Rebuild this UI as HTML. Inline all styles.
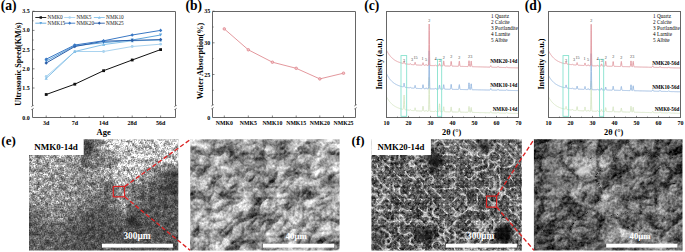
<!DOCTYPE html>
<html><head><meta charset="utf-8"><style>
html,body{margin:0;padding:0;background:#fff;width:685px;height:252px;overflow:hidden}
svg{display:block}
</style></head><body>
<svg width="685" height="252" viewBox="0 0 685 252">
<text x="0.7" y="10.0" style="font-family:'Liberation Serif',serif;font-weight:bold;font-size:13.6px">(a)</text>
<path d="M32.5,11.5H175.5M32.5,117.5H175.5M32.5,11.5V106.0M32.5,109.0V117.5M175.5,11.5V106.0M175.5,109.0V117.5" fill="none" stroke="#666" stroke-width="1"/>
<path d="M31.0,106.9L34.0,105.1M31.0,109.9L34.0,108.1" stroke="#666" stroke-width="0.6" fill="none"/>
<path d="M174.0,106.9L177.0,105.1M174.0,109.9L177.0,108.1" stroke="#666" stroke-width="0.6" fill="none"/>
<path d="M32.5,11.2h2" stroke="#333" stroke-width="0.6"/>
<text x="29.8" y="13.2" text-anchor="end" style="font-family:'Liberation Serif',serif;font-weight:bold;font-size:6px">3.5</text>
<path d="M32.5,30.4h2" stroke="#333" stroke-width="0.6"/>
<text x="29.8" y="32.4" text-anchor="end" style="font-family:'Liberation Serif',serif;font-weight:bold;font-size:6px">3.0</text>
<path d="M32.5,49.6h2" stroke="#333" stroke-width="0.6"/>
<text x="29.8" y="51.6" text-anchor="end" style="font-family:'Liberation Serif',serif;font-weight:bold;font-size:6px">2.5</text>
<path d="M32.5,68.8h2" stroke="#333" stroke-width="0.6"/>
<text x="29.8" y="70.8" text-anchor="end" style="font-family:'Liberation Serif',serif;font-weight:bold;font-size:6px">2.0</text>
<path d="M32.5,88.0h2" stroke="#333" stroke-width="0.6"/>
<text x="29.8" y="90.0" text-anchor="end" style="font-family:'Liberation Serif',serif;font-weight:bold;font-size:6px">1.5</text>
<path d="M32.5,20.8h1.2" stroke="#333" stroke-width="0.5"/>
<path d="M32.5,40.0h1.2" stroke="#333" stroke-width="0.5"/>
<path d="M32.5,59.2h1.2" stroke="#333" stroke-width="0.5"/>
<path d="M32.5,78.4h1.2" stroke="#333" stroke-width="0.5"/>
<text x="29.8" y="119.5" text-anchor="end" style="font-family:'Liberation Serif',serif;font-weight:bold;font-size:6px">0.0</text>
<path d="M46.2,117.5v-2" stroke="#333" stroke-width="0.6"/>
<path d="M60.5,117.5v-1.2" stroke="#333" stroke-width="0.5"/>
<text x="46.2" y="124.9" text-anchor="middle" style="font-family:'Liberation Serif',serif;font-weight:bold;font-size:6px">3d</text>
<path d="M74.8,117.5v-2" stroke="#333" stroke-width="0.6"/>
<path d="M89.2,117.5v-1.2" stroke="#333" stroke-width="0.5"/>
<text x="74.8" y="124.9" text-anchor="middle" style="font-family:'Liberation Serif',serif;font-weight:bold;font-size:6px">7d</text>
<path d="M103.6,117.5v-2" stroke="#333" stroke-width="0.6"/>
<path d="M117.9,117.5v-1.2" stroke="#333" stroke-width="0.5"/>
<text x="103.6" y="124.9" text-anchor="middle" style="font-family:'Liberation Serif',serif;font-weight:bold;font-size:6px">14d</text>
<path d="M132.2,117.5v-2" stroke="#333" stroke-width="0.6"/>
<path d="M146.4,117.5v-1.2" stroke="#333" stroke-width="0.5"/>
<text x="132.2" y="124.9" text-anchor="middle" style="font-family:'Liberation Serif',serif;font-weight:bold;font-size:6px">28d</text>
<path d="M160.6,117.5v-2" stroke="#333" stroke-width="0.6"/>
<text x="160.6" y="124.9" text-anchor="middle" style="font-family:'Liberation Serif',serif;font-weight:bold;font-size:6px">56d</text>
<text x="103.6" y="134.6" text-anchor="middle" style="font-family:'Liberation Serif',serif;font-weight:bold;font-size:8.5px">Age</text>
<text transform="translate(20.6,64) rotate(-90)" text-anchor="middle" style="font-family:'Liberation Serif',serif;font-weight:bold;font-size:8.1px">Ultrasonic Speed(KM/s)</text>
<polyline points="46.2,76.5 74.8,51.5 103.6,51.5 132.2,46.5 160.6,44.2" fill="none" stroke="#a9d3ef" stroke-width="1.0"/>
<circle cx="46.2" cy="76.5" r="1.4" fill="#a9d3ef"/>
<circle cx="74.8" cy="51.5" r="1.4" fill="#a9d3ef"/>
<circle cx="103.6" cy="51.5" r="1.4" fill="#a9d3ef"/>
<circle cx="132.2" cy="46.5" r="1.4" fill="#a9d3ef"/>
<circle cx="160.6" cy="44.2" r="1.4" fill="#a9d3ef"/>
<polyline points="46.2,78.4 74.8,51.5 103.6,44.6 132.2,40.8 160.6,40.0" fill="none" stroke="#86c1e8" stroke-width="1.0"/>
<path d="M46.2,76.8L47.8,79.8H44.6Z" fill="#86c1e8"/>
<path d="M74.8,49.9L76.4,52.9H73.2Z" fill="#86c1e8"/>
<path d="M103.6,43.0L105.2,46.0H102.0Z" fill="#86c1e8"/>
<path d="M132.2,39.2L133.8,42.2H130.6Z" fill="#86c1e8"/>
<path d="M160.6,38.4L162.2,41.4H159.0Z" fill="#86c1e8"/>
<polyline points="46.2,61.1 74.8,45.8 103.6,42.7 132.2,40.0 160.6,35.0" fill="none" stroke="#5fa5dc" stroke-width="1.0"/>
<path d="M46.2,62.7L47.8,59.7H44.6Z" fill="#5fa5dc"/>
<path d="M74.8,47.4L76.4,44.4H73.2Z" fill="#5fa5dc"/>
<path d="M103.6,44.3L105.2,41.3H102.0Z" fill="#5fa5dc"/>
<path d="M132.2,41.6L133.8,38.6H130.6Z" fill="#5fa5dc"/>
<path d="M160.6,36.6L162.2,33.6H159.0Z" fill="#5fa5dc"/>
<polyline points="46.2,63.0 74.8,46.5 103.6,41.2 132.2,40.4 160.6,39.6" fill="none" stroke="#2c5ea8" stroke-width="1.0"/>
<path d="M46.2,61.2L47.9,63.0L46.2,64.8L44.5,63.0Z" fill="#2c5ea8"/>
<path d="M74.8,44.7L76.5,46.5L74.8,48.3L73.1,46.5Z" fill="#2c5ea8"/>
<path d="M103.6,39.4L105.3,41.2L103.6,43.0L101.9,41.2Z" fill="#2c5ea8"/>
<path d="M132.2,38.6L133.9,40.4L132.2,42.2L130.5,40.4Z" fill="#2c5ea8"/>
<path d="M160.6,37.8L162.3,39.6L160.6,41.4L158.9,39.6Z" fill="#2c5ea8"/>
<polyline points="46.2,59.2 74.8,45.0 103.6,40.8 132.2,35.0 160.6,30.4" fill="none" stroke="#3a78c4" stroke-width="1.0"/>
<path d="M46.2,57.4L47.9,59.2L46.2,61.0L44.5,59.2Z" fill="#3a78c4"/>
<path d="M74.8,43.2L76.5,45.0L74.8,46.8L73.1,45.0Z" fill="#3a78c4"/>
<path d="M103.6,39.0L105.3,40.8L103.6,42.6L101.9,40.8Z" fill="#3a78c4"/>
<path d="M132.2,33.2L133.9,35.0L132.2,36.8L130.5,35.0Z" fill="#3a78c4"/>
<path d="M160.6,28.6L162.3,30.4L160.6,32.2L158.9,30.4Z" fill="#3a78c4"/>
<polyline points="46.2,94.5 74.8,84.2 103.6,70.7 132.2,60.0 160.6,49.6" fill="none" stroke="#111111" stroke-width="1.0"/>
<rect x="44.8" y="93.1" width="2.8" height="2.8" fill="#111111"/>
<rect x="73.4" y="82.8" width="2.8" height="2.8" fill="#111111"/>
<rect x="102.2" y="69.3" width="2.8" height="2.8" fill="#111111"/>
<rect x="130.8" y="58.6" width="2.8" height="2.8" fill="#111111"/>
<rect x="159.2" y="48.2" width="2.8" height="2.8" fill="#111111"/>
<path d="M35.3,17.5h11" stroke="#111111" stroke-width="0.9"/>
<rect x="39.6" y="16.3" width="2.4" height="2.4" fill="#111111"/>
<text x="47.6" y="19.3" style="font-family:'Liberation Serif',serif;font-size:5.3px;fill:#222">NMK0</text>
<path d="M64.2,17.5h11" stroke="#a9d3ef" stroke-width="0.9"/>
<circle cx="69.7" cy="17.5" r="1.2" fill="#a9d3ef"/>
<text x="76.5" y="19.3" style="font-family:'Liberation Serif',serif;font-size:5.3px;fill:#222">NMK5</text>
<path d="M93.8,17.5h11" stroke="#86c1e8" stroke-width="0.9"/>
<path d="M99.3,16.1L100.7,18.7H97.9Z" fill="#86c1e8"/>
<text x="106.1" y="19.3" style="font-family:'Liberation Serif',serif;font-size:5.3px;fill:#222">NMK10</text>
<path d="M35.3,23.2h11" stroke="#5fa5dc" stroke-width="0.9"/>
<path d="M40.8,24.6L42.2,22.0H39.4Z" fill="#5fa5dc"/>
<text x="47.6" y="25.0" style="font-family:'Liberation Serif',serif;font-size:5.3px;fill:#222">NMK15</text>
<path d="M64.2,23.2h11" stroke="#3a78c4" stroke-width="0.9"/>
<path d="M69.7,21.6L71.2,23.2L69.7,24.8L68.2,23.2Z" fill="#3a78c4"/>
<text x="76.5" y="25.0" style="font-family:'Liberation Serif',serif;font-size:5.3px;fill:#222">NMK20</text>
<path d="M93.8,23.2h11" stroke="#2c5ea8" stroke-width="0.9"/>
<path d="M99.3,21.6L100.8,23.2L99.3,24.8L97.8,23.2Z" fill="#2c5ea8"/>
<text x="106.1" y="25.0" style="font-family:'Liberation Serif',serif;font-size:5.3px;fill:#222">NMK25</text>
<text x="185.4" y="10.0" style="font-family:'Liberation Serif',serif;font-weight:bold;font-size:13.6px">(b)</text>
<path d="M212.5,11.5H355.5M212.5,117.5H355.5M212.5,11.5V105.3M212.5,108.3V117.5M355.5,11.5V105.3M355.5,108.3V117.5" fill="none" stroke="#666" stroke-width="1"/>
<path d="M211.0,106.2L214.0,104.39999999999999M211.0,109.2L214.0,107.39999999999999" stroke="#666" stroke-width="0.6" fill="none"/>
<path d="M354.0,106.2L357.0,104.39999999999999M354.0,109.2L357.0,107.39999999999999" stroke="#666" stroke-width="0.6" fill="none"/>
<path d="M212.5,11.2h2" stroke="#333" stroke-width="0.6"/>
<text x="210.2" y="13.2" text-anchor="end" style="font-family:'Liberation Serif',serif;font-weight:bold;font-size:6px">35</text>
<path d="M212.5,42.8h2" stroke="#333" stroke-width="0.6"/>
<text x="210.2" y="44.8" text-anchor="end" style="font-family:'Liberation Serif',serif;font-weight:bold;font-size:6px">30</text>
<path d="M212.5,74.5h2" stroke="#333" stroke-width="0.6"/>
<text x="210.2" y="76.5" text-anchor="end" style="font-family:'Liberation Serif',serif;font-weight:bold;font-size:6px">25</text>
<path d="M212.5,27.0h1.2" stroke="#333" stroke-width="0.5"/>
<path d="M212.5,58.7h1.2" stroke="#333" stroke-width="0.5"/>
<path d="M212.5,90.3h1.2" stroke="#333" stroke-width="0.5"/>
<text x="210.2" y="119.5" text-anchor="end" style="font-family:'Liberation Serif',serif;font-weight:bold;font-size:6px">0</text>
<path d="M224.3,117.5v-2" stroke="#333" stroke-width="0.6"/>
<text x="224.3" y="124.9" text-anchor="middle" style="font-family:'Liberation Serif',serif;font-weight:bold;font-size:5.8px">NMK0</text>
<path d="M248.3,117.5v-2" stroke="#333" stroke-width="0.6"/>
<text x="248.3" y="124.9" text-anchor="middle" style="font-family:'Liberation Serif',serif;font-weight:bold;font-size:5.8px">NMK5</text>
<path d="M272.4,117.5v-2" stroke="#333" stroke-width="0.6"/>
<text x="272.4" y="124.9" text-anchor="middle" style="font-family:'Liberation Serif',serif;font-weight:bold;font-size:5.8px">NMK10</text>
<path d="M296.2,117.5v-2" stroke="#333" stroke-width="0.6"/>
<text x="296.2" y="124.9" text-anchor="middle" style="font-family:'Liberation Serif',serif;font-weight:bold;font-size:5.8px">NMK15</text>
<path d="M319.8,117.5v-2" stroke="#333" stroke-width="0.6"/>
<text x="319.8" y="124.9" text-anchor="middle" style="font-family:'Liberation Serif',serif;font-weight:bold;font-size:5.8px">NMK20</text>
<path d="M343.5,117.5v-2" stroke="#333" stroke-width="0.6"/>
<text x="343.5" y="124.9" text-anchor="middle" style="font-family:'Liberation Serif',serif;font-weight:bold;font-size:5.8px">NMK25</text>
<polyline points="224.3,28.9 248.3,49.8 272.4,62.2 296.2,68.3 319.8,78.9 343.5,73.2" fill="none" stroke="#e08c92" stroke-width="0.9"/>
<circle cx="224.3" cy="28.9" r="1.3" fill="#f3c4c8" stroke="#d9747c" stroke-width="0.6"/>
<circle cx="248.3" cy="49.8" r="1.3" fill="#f3c4c8" stroke="#d9747c" stroke-width="0.6"/>
<circle cx="272.4" cy="62.2" r="1.3" fill="#f3c4c8" stroke="#d9747c" stroke-width="0.6"/>
<circle cx="296.2" cy="68.3" r="1.3" fill="#f3c4c8" stroke="#d9747c" stroke-width="0.6"/>
<circle cx="319.8" cy="78.9" r="1.3" fill="#f3c4c8" stroke="#d9747c" stroke-width="0.6"/>
<circle cx="343.5" cy="73.2" r="1.3" fill="#f3c4c8" stroke="#d9747c" stroke-width="0.6"/>
<text transform="translate(202.9,61) rotate(-90)" text-anchor="middle" style="font-family:'Liberation Serif',serif;font-weight:bold;font-size:8.2px">Water Absorption(%)</text>
<text x="364.3" y="10.0" style="font-family:'Liberation Serif',serif;font-weight:bold;font-size:13.6px">(c)</text>
<polyline points="386.50,96.80 386.65,97.07 386.79,97.34 386.94,97.61 387.09,97.86 387.23,98.12 387.38,98.36 387.53,98.61 387.67,98.85 387.82,99.08 387.97,99.31 388.11,99.54 388.26,99.76 388.41,99.97 388.55,100.18 388.70,100.39 388.85,100.60 388.99,100.80 389.14,100.99 389.29,101.19 389.43,101.37 389.58,101.56 389.73,101.74 389.87,101.92 390.02,102.09 390.17,102.26 390.31,102.43 390.46,102.60 390.61,102.76 390.75,102.92 390.90,103.07 391.05,103.22 391.19,103.37 391.34,103.52 391.49,103.66 391.63,103.80 391.78,103.94 391.93,104.07 392.07,104.21 392.22,104.34 392.37,104.46 392.51,104.59 392.66,104.71 392.81,104.83 392.95,104.95 393.10,105.07 393.25,105.18 393.39,105.29 393.54,105.40 393.69,105.51 393.83,105.61 393.98,105.71 394.13,105.81 394.27,105.91 394.42,106.01 394.57,106.10 394.71,106.20 394.86,106.29 395.01,106.38 395.15,106.47 395.30,106.55 395.45,106.64 395.59,106.72 395.74,106.80 395.89,106.88 396.03,106.96 396.18,107.03 396.33,107.11 396.47,107.18 396.62,107.26 396.77,107.33 396.91,107.40 397.06,107.46 397.21,107.53 397.35,107.60 397.50,107.66 397.65,107.72 397.79,107.78 397.94,107.85 398.09,107.90 398.23,107.96 398.38,108.02 398.53,108.08 398.67,108.13 398.82,108.18 398.97,108.24 399.11,108.29 399.26,108.34 399.41,108.39 399.55,108.44 399.70,108.49 399.85,108.53 399.99,108.58 400.14,108.62 400.29,108.67 400.43,108.71 400.58,108.75 400.73,108.80 400.87,108.84 401.02,108.88 401.17,108.92 401.31,108.95 401.46,108.99 401.61,109.03 401.75,109.07 401.90,109.10 402.05,109.14 402.19,109.17 402.34,109.20 402.49,109.24 402.63,109.27 402.78,109.30 402.93,109.32 403.07,109.30 403.22,109.13 403.37,108.52 403.51,107.00 403.66,104.14 403.81,100.21 403.95,96.56 404.10,95.06 404.25,96.61 404.39,100.31 404.54,104.30 404.69,107.21 404.83,108.78 404.98,109.44 405.13,109.67 405.27,109.74 405.42,109.77 405.57,109.80 405.71,109.82 405.86,109.84 406.01,109.86 406.15,109.88 406.30,109.90 406.45,109.92 406.59,109.94 406.74,109.96 406.89,109.98 407.03,109.99 407.18,110.01 407.33,110.03 407.47,110.05 407.62,110.06 407.77,110.08 407.91,110.09 408.06,110.11 408.21,110.13 408.35,110.14 408.50,110.16 408.65,110.17 408.79,110.19 408.94,110.21 409.09,110.22 409.23,110.24 409.38,110.24 409.53,110.23 409.67,110.16 409.82,110.01 409.97,109.81 410.11,109.62 410.26,109.55 410.41,109.65 410.55,109.87 410.70,110.10 410.85,110.28 410.99,110.38 411.14,110.42 411.29,110.45 411.43,110.47 411.58,110.48 411.73,110.49 411.87,110.51 412.02,110.52 412.17,110.53 412.31,110.54 412.46,110.56 412.61,110.57 412.75,110.58 412.90,110.59 413.05,110.60 413.19,110.61 413.34,110.62 413.49,110.64 413.63,110.65 413.78,110.66 413.93,110.67 414.07,110.67 414.22,110.63 414.37,110.51 414.51,110.20 414.66,109.62 414.81,108.81 414.95,108.05 415.10,107.75 415.25,108.07 415.39,108.84 415.54,109.67 415.69,110.28 415.83,110.61 415.98,110.75 416.13,110.80 416.27,110.82 416.42,110.83 416.57,110.84 416.71,110.85 416.86,110.85 417.01,110.86 417.15,110.87 417.30,110.88 417.45,110.89 417.59,110.89 417.74,110.90 417.89,110.91 418.03,110.92 418.18,110.92 418.33,110.93 418.47,110.94 418.62,110.95 418.77,110.95 418.91,110.96 419.06,110.97 419.21,110.98 419.35,110.98 419.50,110.99 419.65,111.00 419.79,111.00 419.94,111.01 420.09,111.02 420.23,111.02 420.38,111.03 420.53,111.04 420.67,111.04 420.82,111.05 420.97,111.05 421.11,111.06 421.26,111.07 421.41,111.07 421.55,111.08 421.70,111.08 421.85,111.09 421.99,111.07 422.14,111.01 422.29,110.80 422.43,110.27 422.58,109.28 422.73,107.92 422.87,106.66 423.02,106.14 423.17,106.67 423.31,107.94 423.46,109.31 423.61,110.31 423.75,110.85 423.90,111.08 424.05,111.15 424.19,111.18 424.34,111.18 424.49,111.19 424.63,111.20 424.78,111.20 424.93,111.20 425.07,111.21 425.22,111.20 425.37,111.16 425.51,111.06 425.66,110.86 425.81,110.59 425.95,110.35 426.10,110.25 426.25,110.36 426.39,110.61 426.54,110.89 426.69,111.10 426.83,111.21 426.98,111.26 427.13,111.27 427.27,111.28 427.42,111.29 427.57,111.29 427.71,111.30 427.86,111.30 428.01,111.31 428.15,111.30 428.30,111.25 428.45,110.88 428.59,109.21 428.74,104.20 428.89,94.36 429.03,82.76 429.18,77.34 429.33,82.77 429.47,94.37 429.62,104.23 429.77,109.25 429.91,110.92 430.06,111.30 430.21,111.37 430.35,111.38 430.50,111.38 430.65,111.38 430.79,111.39 430.94,111.39 431.09,111.40 431.23,111.40 431.38,111.41 431.53,111.41 431.67,111.41 431.82,111.42 431.97,111.42 432.11,111.43 432.26,111.43 432.41,111.43 432.55,111.44 432.70,111.44 432.85,111.45 432.99,111.45 433.14,111.45 433.29,111.46 433.43,111.46 433.58,111.47 433.73,111.47 433.87,111.47 434.02,111.48 434.17,111.48 434.31,111.48 434.46,111.48 434.61,111.44 434.75,111.36 434.90,111.21 435.05,110.99 435.19,110.79 435.34,110.71 435.49,110.80 435.63,111.01 435.78,111.23 435.93,111.39 436.07,111.48 436.22,111.52 436.37,111.54 436.51,111.54 436.66,111.55 436.81,111.55 436.95,111.56 437.10,111.56 437.25,111.56 437.39,111.57 437.54,111.57 437.69,111.57 437.83,111.58 437.98,111.58 438.13,111.59 438.27,111.59 438.42,111.58 438.57,111.52 438.71,111.32 438.86,110.76 439.01,109.56 439.15,107.62 439.30,105.39 439.45,103.84 439.59,103.84 439.74,105.40 439.89,107.64 440.03,109.58 440.18,110.79 440.33,111.36 440.47,111.57 440.62,111.63 440.77,111.65 440.91,111.66 441.06,111.66 441.21,111.66 441.35,111.67 441.50,111.67 441.65,111.67 441.79,111.68 441.94,111.68 442.09,111.69 442.23,111.69 442.38,111.69 442.53,111.69 442.67,111.68 442.82,111.61 442.97,111.40 443.11,110.87 443.26,109.88 443.41,108.51 443.55,107.25 443.70,106.73 443.85,107.25 443.99,108.53 444.14,109.90 444.29,110.89 444.43,111.43 444.58,111.66 444.73,111.73 444.87,111.75 445.02,111.76 445.17,111.76 445.31,111.76 445.46,111.77 445.61,111.77 445.75,111.78 445.90,111.78 446.05,111.78 446.19,111.79 446.34,111.79 446.49,111.79 446.63,111.80 446.78,111.80 446.93,111.80 447.07,111.81 447.22,111.81 447.37,111.81 447.51,111.82 447.66,111.82 447.81,111.83 447.95,111.83 448.10,111.83 448.25,111.84 448.39,111.84 448.54,111.84 448.69,111.85 448.83,111.85 448.98,111.85 449.13,111.86 449.27,111.86 449.42,111.86 449.57,111.87 449.71,111.87 449.86,111.87 450.01,111.87 450.15,111.86 450.30,111.79 450.45,111.58 450.59,111.05 450.74,110.06 450.89,108.69 451.03,107.43 451.18,106.91 451.33,107.44 451.47,108.71 451.62,110.08 451.77,111.08 451.91,111.61 452.06,111.84 452.21,111.91 452.35,111.93 452.50,111.94 452.65,111.94 452.79,111.94 452.94,111.95 453.09,111.95 453.23,111.96 453.38,111.96 453.53,111.96 453.67,111.97 453.82,111.97 453.97,111.97 454.11,111.98 454.26,111.98 454.41,111.98 454.55,111.99 454.70,111.99 454.85,111.99 454.99,112.00 455.14,112.00 455.29,112.00 455.43,112.01 455.58,112.01 455.73,112.01 455.87,112.02 456.02,112.02 456.17,112.03 456.31,112.03 456.46,112.03 456.61,112.04 456.75,112.04 456.90,112.04 457.05,112.05 457.19,112.05 457.34,112.05 457.49,112.06 457.63,112.06 457.78,112.06 457.93,112.07 458.07,112.07 458.22,112.07 458.37,112.04 458.51,111.94 458.66,111.66 458.81,111.06 458.95,110.09 459.10,108.98 459.25,108.21 459.39,108.21 459.54,108.99 459.69,110.11 459.83,111.09 459.98,111.69 460.13,111.98 460.27,112.09 460.42,112.12 460.57,112.13 460.71,112.13 460.86,112.14 461.01,112.14 461.15,112.14 461.30,112.15 461.45,112.15 461.59,112.15 461.74,112.16 461.89,112.16 462.03,112.16 462.18,112.17 462.33,112.17 462.47,112.18 462.62,112.18 462.77,112.18 462.91,112.19 463.06,112.19 463.21,112.19 463.35,112.20 463.50,112.20 463.65,112.20 463.79,112.21 463.94,112.21 464.09,112.21 464.23,112.22 464.38,112.22 464.53,112.22 464.67,112.23 464.82,112.23 464.97,112.23 465.11,112.24 465.26,112.24 465.41,112.24 465.55,112.25 465.70,112.25 465.85,112.26 465.99,112.26 466.14,112.26 466.29,112.27 466.43,112.27 466.58,112.27 466.73,112.28 466.87,112.28 467.02,112.28 467.17,112.29 467.31,112.29 467.46,112.29 467.61,112.30 467.75,112.30 467.90,112.29 468.05,112.25 468.19,112.10 468.34,111.68 468.49,110.78 468.63,109.32 468.78,107.65 468.93,106.49 469.07,106.50 469.22,107.66 469.37,109.34 469.51,110.80 469.66,111.71 469.81,112.14 469.95,112.30 470.10,112.33 470.25,112.31 470.39,112.19 470.54,111.84 470.69,111.09 470.83,109.88 470.98,108.48 471.13,107.52 471.27,107.52 471.42,108.49 471.57,109.89 471.71,111.11 471.86,111.87 472.01,112.23 472.15,112.36 472.30,112.40 472.45,112.41 472.59,112.41 472.74,112.42 472.89,112.42 473.03,112.43 473.18,112.43 473.33,112.43 473.47,112.44 473.62,112.44 473.77,112.44 473.91,112.45 474.06,112.45 474.21,112.45 474.35,112.46 474.50,112.46 474.65,112.46 474.79,112.47 474.94,112.47 475.09,112.47 475.23,112.48 475.38,112.48 475.53,112.48 475.67,112.49 475.82,112.49 475.97,112.49 476.11,112.50 476.26,112.50 476.41,112.50 476.55,112.51 476.70,112.51 476.85,112.52 476.99,112.52 477.14,112.52 477.29,112.53 477.43,112.53 477.58,112.53 477.73,112.54 477.87,112.54 478.02,112.54 478.17,112.55 478.31,112.55 478.46,112.55 478.61,112.56 478.75,112.56 478.90,112.56 479.05,112.57 479.19,112.57 479.34,112.57 479.49,112.58 479.63,112.58 479.78,112.58 479.93,112.59 480.07,112.59 480.22,112.60 480.37,112.60 480.51,112.60 480.66,112.61 480.81,112.61 480.95,112.61 481.10,112.62 481.25,112.62 481.39,112.62 481.54,112.63 481.69,112.63 481.83,112.63 481.98,112.64 482.13,112.64 482.27,112.64 482.42,112.65 482.57,112.65 482.71,112.65 482.86,112.66 483.01,112.66 483.15,112.66 483.30,112.67 483.45,112.67 483.59,112.67 483.74,112.68 483.89,112.68 484.03,112.69 484.18,112.69 484.33,112.69 484.47,112.70 484.62,112.70 484.77,112.70 484.91,112.71 485.06,112.71 485.21,112.71 485.35,112.72 485.50,112.72 485.65,112.72 485.79,112.73 485.94,112.73 486.09,112.73 486.23,112.74 486.38,112.74 486.53,112.74 486.67,112.75 486.82,112.75 486.97,112.75 487.11,112.76 487.26,112.76 487.41,112.77 487.55,112.77 487.70,112.77 487.85,112.78 487.99,112.78 488.14,112.78 488.29,112.79 488.43,112.79 488.58,112.79 488.73,112.80 488.87,112.80 489.02,112.80 489.17,112.81 489.31,112.81 489.46,112.81 489.61,112.82 489.75,112.81 489.90,112.80 490.05,112.74 490.19,112.59 490.34,112.32 490.49,111.94 490.63,111.59 490.78,111.44 490.93,111.60 491.07,111.95 491.22,112.34 491.37,112.62 491.51,112.78 491.66,112.84 491.81,112.86 491.95,112.87 492.10,112.88 492.25,112.88 492.39,112.88 492.54,112.89 492.69,112.89 492.83,112.89 492.98,112.90 493.13,112.90 493.27,112.90 493.42,112.91 493.57,112.91 493.71,112.91 493.86,112.92 494.01,112.92 494.15,112.92 494.30,112.93 494.45,112.93 494.59,112.93 494.74,112.94 494.89,112.94 495.03,112.95 495.18,112.95 495.33,112.95 495.47,112.96 495.62,112.96 495.77,112.96 495.91,112.97 496.06,112.97 496.21,112.97 496.35,112.98 496.50,112.98 496.65,112.98 496.79,112.99 496.94,112.99 497.09,112.98 497.23,112.96 497.38,112.90 497.53,112.75 497.67,112.51 497.82,112.23 497.97,112.04 498.11,112.05 498.26,112.24 498.41,112.53 498.55,112.77 498.70,112.93 498.85,113.00 498.99,113.03 499.14,113.04 499.29,113.05 499.43,113.05 499.58,113.05 499.73,113.06 499.87,113.06 500.02,113.06 500.17,113.07 500.31,113.07 500.46,113.07 500.61,113.08 500.75,113.08 500.90,113.08 501.05,113.09 501.19,113.09 501.34,113.09 501.49,113.10 501.63,113.10 501.78,113.10 501.93,113.11 502.07,113.11 502.22,113.12 502.37,113.12 502.51,113.12 502.66,113.13 502.81,113.13 502.95,113.13 503.10,113.14 503.25,113.14 503.39,113.14 503.54,113.15 503.69,113.15 503.83,113.15 503.98,113.16 504.13,113.16 504.27,113.16 504.42,113.17 504.57,113.17 504.71,113.17 504.86,113.18 505.01,113.18 505.15,113.18 505.30,113.19 505.45,113.19 505.59,113.19 505.74,113.20 505.89,113.19 506.03,113.18 506.18,113.12 506.33,113.01 506.47,112.82 506.62,112.60 506.77,112.44 506.91,112.45 507.06,112.61 507.21,112.83 507.35,113.03 507.50,113.16 507.65,113.22 507.79,113.24 507.94,113.25 508.09,113.25 508.23,113.26 508.38,113.26 508.53,113.26 508.67,113.27 508.82,113.27 508.97,113.27 509.11,113.28 509.26,113.28 509.41,113.29 509.55,113.29 509.70,113.29 509.85,113.30 509.99,113.30 510.14,113.30 510.29,113.31 510.43,113.31 510.58,113.31 510.73,113.32 510.87,113.32 511.02,113.32 511.17,113.33 511.31,113.33 511.46,113.33 511.61,113.34 511.75,113.34 511.90,113.34 512.05,113.35 512.19,113.35 512.34,113.35 512.49,113.36 512.63,113.36 512.78,113.36 512.93,113.37 513.07,113.37 513.22,113.38 513.37,113.38 513.51,113.38 513.66,113.39 513.81,113.39 513.95,113.39 514.10,113.40 514.25,113.40 514.39,113.40 514.54,113.41 514.69,113.41 514.83,113.41 514.98,113.42 515.13,113.42 515.27,113.42 515.42,113.43 515.57,113.43 515.71,113.43 515.86,113.44 516.01,113.44 516.15,113.44 516.30,113.45 516.45,113.45 516.59,113.45 516.74,113.46 516.89,113.46 517.03,113.47 517.18,113.47 517.33,113.47 517.47,113.48 517.62,113.48 517.77,113.48 517.91,113.49 518.06,113.49 518.21,113.49 518.35,113.50 518.50,113.50" fill="none" stroke="#d3e3bf" stroke-width="0.8" stroke-linejoin="round"/>
<polyline points="386.50,73.80 386.65,74.09 386.79,74.37 386.94,74.64 387.09,74.91 387.23,75.17 387.38,75.43 387.53,75.69 387.67,75.93 387.82,76.18 387.97,76.42 388.11,76.65 388.26,76.88 388.41,77.11 388.55,77.33 388.70,77.55 388.85,77.76 388.99,77.97 389.14,78.17 389.29,78.37 389.43,78.57 389.58,78.76 389.73,78.95 389.87,79.14 390.02,79.32 390.17,79.50 390.31,79.67 390.46,79.84 390.61,80.01 390.75,80.18 390.90,80.34 391.05,80.50 391.19,80.65 391.34,80.80 391.49,80.95 391.63,81.10 391.78,81.24 391.93,81.38 392.07,81.52 392.22,81.66 392.37,81.79 392.51,81.92 392.66,82.05 392.81,82.17 392.95,82.30 393.10,82.42 393.25,82.54 393.39,82.65 393.54,82.76 393.69,82.88 393.83,82.99 393.98,83.09 394.13,83.20 394.27,83.30 394.42,83.40 394.57,83.50 394.71,83.60 394.86,83.69 395.01,83.79 395.15,83.88 395.30,83.97 395.45,84.06 395.59,84.14 395.74,84.23 395.89,84.31 396.03,84.39 396.18,84.47 396.33,84.55 396.47,84.63 396.62,84.70 396.77,84.77 396.91,84.85 397.06,84.92 397.21,84.99 397.35,85.06 397.50,85.12 397.65,85.19 397.79,85.25 397.94,85.32 398.09,85.38 398.23,85.44 398.38,85.50 398.53,85.56 398.67,85.61 398.82,85.67 398.97,85.72 399.11,85.78 399.26,85.83 399.41,85.88 399.55,85.93 399.70,85.98 399.85,86.03 399.99,86.08 400.14,86.13 400.29,86.17 400.43,86.22 400.58,86.26 400.73,86.31 400.87,86.35 401.02,86.39 401.17,86.43 401.31,86.47 401.46,86.51 401.61,86.55 401.75,86.59 401.90,86.62 402.05,86.66 402.19,86.70 402.34,86.73 402.49,86.77 402.63,86.80 402.78,86.83 402.93,86.86 403.07,86.88 403.22,86.85 403.37,86.71 403.51,86.31 403.66,85.55 403.81,84.48 403.95,83.50 404.10,83.10 404.25,83.55 404.39,84.59 404.54,85.71 404.69,86.53 404.83,86.98 404.98,87.18 405.13,87.26 405.27,87.30 405.42,87.33 405.57,87.35 405.71,87.37 405.86,87.40 406.01,87.42 406.15,87.44 406.30,87.46 406.45,87.48 406.59,87.50 406.74,87.52 406.89,87.54 407.03,87.56 407.18,87.57 407.33,87.59 407.47,87.61 407.62,87.63 407.77,87.64 407.91,87.66 408.06,87.68 408.21,87.69 408.35,87.71 408.50,87.72 408.65,87.74 408.79,87.76 408.94,87.78 409.09,87.79 409.23,87.81 409.38,87.81 409.53,87.79 409.67,87.72 409.82,87.58 409.97,87.38 410.11,87.19 410.26,87.12 410.41,87.22 410.55,87.44 410.70,87.67 410.85,87.84 410.99,87.94 411.14,87.99 411.29,88.01 411.43,88.03 411.58,88.04 411.73,88.06 411.87,88.07 412.02,88.08 412.17,88.09 412.31,88.11 412.46,88.12 412.61,88.13 412.75,88.14 412.90,88.15 413.05,88.16 413.19,88.18 413.34,88.19 413.49,88.20 413.63,88.21 413.78,88.22 413.93,88.23 414.07,88.22 414.22,88.19 414.37,88.07 414.51,87.76 414.66,87.17 414.81,86.36 414.95,85.61 415.10,85.30 415.25,85.63 415.39,86.40 415.54,87.23 415.69,87.83 415.83,88.16 415.98,88.30 416.13,88.35 416.27,88.37 416.42,88.38 416.57,88.39 416.71,88.40 416.86,88.41 417.01,88.41 417.15,88.42 417.30,88.43 417.45,88.44 417.59,88.44 417.74,88.45 417.89,88.46 418.03,88.46 418.18,88.47 418.33,88.48 418.47,88.49 418.62,88.49 418.77,88.50 418.91,88.51 419.06,88.51 419.21,88.52 419.35,88.53 419.50,88.53 419.65,88.54 419.79,88.54 419.94,88.55 420.09,88.56 420.23,88.56 420.38,88.57 420.53,88.57 420.67,88.58 420.82,88.59 420.97,88.59 421.11,88.60 421.26,88.60 421.41,88.61 421.55,88.61 421.70,88.62 421.85,88.62 421.99,88.61 422.14,88.56 422.29,88.39 422.43,87.97 422.58,87.18 422.73,86.09 422.87,85.08 423.02,84.67 423.17,85.09 423.31,86.11 423.46,87.21 423.61,88.01 423.75,88.44 423.90,88.62 424.05,88.68 424.19,88.70 424.34,88.71 424.49,88.71 424.63,88.72 424.78,88.72 424.93,88.73 425.07,88.73 425.22,88.72 425.37,88.68 425.51,88.58 425.66,88.38 425.81,88.11 425.95,87.86 426.10,87.76 426.25,87.87 426.39,88.13 426.54,88.41 426.69,88.61 426.83,88.72 426.98,88.77 427.13,88.79 427.27,88.79 427.42,88.80 427.57,88.80 427.71,88.81 427.86,88.81 428.01,88.81 428.15,88.81 428.30,88.75 428.45,88.33 428.59,86.47 428.74,80.87 428.89,69.86 429.03,56.90 429.18,50.85 429.33,56.91 429.47,69.88 429.62,80.89 429.77,86.50 429.91,88.37 430.06,88.79 430.21,88.86 430.35,88.87 430.50,88.88 430.65,88.88 430.79,88.89 430.94,88.89 431.09,88.89 431.23,88.90 431.38,88.90 431.53,88.90 431.67,88.91 431.82,88.91 431.97,88.91 432.11,88.92 432.26,88.92 432.41,88.92 432.55,88.93 432.70,88.93 432.85,88.93 432.99,88.94 433.14,88.94 433.29,88.94 433.43,88.95 433.58,88.95 433.73,88.95 433.87,88.96 434.02,88.96 434.17,88.96 434.31,88.96 434.46,88.96 434.61,88.92 434.75,88.84 434.90,88.69 435.05,88.47 435.19,88.27 435.34,88.19 435.49,88.28 435.63,88.48 435.78,88.71 435.93,88.87 436.07,88.96 436.22,89.00 436.37,89.01 436.51,89.02 436.66,89.02 436.81,89.02 436.95,89.03 437.10,89.03 437.25,89.03 437.39,89.04 437.54,89.04 437.69,89.04 437.83,89.04 437.98,89.05 438.13,89.05 438.27,89.05 438.42,89.05 438.57,89.02 438.71,88.92 438.86,88.64 439.01,88.04 439.15,87.07 439.30,85.96 439.45,85.19 439.59,85.19 439.74,85.97 439.89,87.09 440.03,88.07 440.18,88.67 440.33,88.96 440.47,89.06 440.62,89.09 440.77,89.10 440.91,89.11 441.06,89.11 441.21,89.11 441.35,89.12 441.50,89.12 441.65,89.12 441.79,89.13 441.94,89.13 442.09,89.13 442.23,89.14 442.38,89.14 442.53,89.14 442.67,89.12 442.82,89.06 442.97,88.87 443.11,88.39 443.26,87.50 443.41,86.27 443.55,85.14 443.70,84.66 443.85,85.14 443.99,86.29 444.14,87.52 444.29,88.42 444.43,88.90 444.58,89.10 444.73,89.17 444.87,89.18 445.02,89.19 445.17,89.19 445.31,89.20 445.46,89.20 445.61,89.20 445.75,89.21 445.90,89.21 446.05,89.21 446.19,89.21 446.34,89.22 446.49,89.22 446.63,89.22 446.78,89.23 446.93,89.23 447.07,89.23 447.22,89.23 447.37,89.24 447.51,89.24 447.66,89.24 447.81,89.25 447.95,89.25 448.10,89.25 448.25,89.25 448.39,89.26 448.54,89.26 448.69,89.26 448.83,89.27 448.98,89.27 449.13,89.27 449.27,89.28 449.42,89.28 449.57,89.28 449.71,89.28 449.86,89.29 450.01,89.29 450.15,89.27 450.30,89.20 450.45,88.99 450.59,88.46 450.74,87.46 450.89,86.10 451.03,84.84 451.18,84.31 451.33,84.84 451.47,86.11 451.62,87.48 451.77,88.48 451.91,89.02 452.06,89.24 452.21,89.31 452.35,89.33 452.50,89.34 452.65,89.34 452.79,89.34 452.94,89.35 453.09,89.35 453.23,89.35 453.38,89.35 453.53,89.36 453.67,89.36 453.82,89.36 453.97,89.37 454.11,89.37 454.26,89.37 454.41,89.37 454.55,89.38 454.70,89.38 454.85,89.38 454.99,89.39 455.14,89.39 455.29,89.39 455.43,89.39 455.58,89.40 455.73,89.40 455.87,89.40 456.02,89.41 456.17,89.41 456.31,89.41 456.46,89.41 456.61,89.42 456.75,89.42 456.90,89.42 457.05,89.43 457.19,89.43 457.34,89.43 457.49,89.43 457.63,89.44 457.78,89.44 457.93,89.44 458.07,89.44 458.22,89.44 458.37,89.41 458.51,89.28 458.66,88.93 458.81,88.18 458.95,86.97 459.10,85.57 459.25,84.60 459.39,84.61 459.54,85.58 459.69,86.98 459.83,88.20 459.98,88.96 460.13,89.31 460.27,89.44 460.42,89.48 460.57,89.49 460.71,89.50 460.86,89.50 461.01,89.50 461.15,89.50 461.30,89.51 461.45,89.51 461.59,89.51 461.74,89.52 461.89,89.52 462.03,89.52 462.18,89.52 462.33,89.53 462.47,89.53 462.62,89.53 462.77,89.54 462.91,89.54 463.06,89.54 463.21,89.54 463.35,89.55 463.50,89.55 463.65,89.55 463.79,89.56 463.94,89.56 464.09,89.56 464.23,89.56 464.38,89.57 464.53,89.57 464.67,89.57 464.82,89.57 464.97,89.58 465.11,89.58 465.26,89.58 465.41,89.59 465.55,89.59 465.70,89.59 465.85,89.59 465.99,89.60 466.14,89.60 466.29,89.60 466.43,89.61 466.58,89.61 466.73,89.61 466.87,89.61 467.02,89.62 467.17,89.62 467.31,89.62 467.46,89.63 467.61,89.63 467.75,89.63 467.90,89.62 468.05,89.57 468.19,89.40 468.34,88.90 468.49,87.85 468.63,86.15 468.78,84.20 468.93,82.85 469.07,82.85 469.22,84.21 469.37,86.17 469.51,87.87 469.66,88.93 469.81,89.43 469.95,89.61 470.10,89.65 470.25,89.62 470.39,89.47 470.54,89.05 470.69,88.15 470.83,86.69 470.98,85.02 471.13,83.86 471.27,83.86 471.42,85.03 471.57,86.71 471.71,88.17 471.86,89.08 472.01,89.50 472.15,89.66 472.30,89.71 472.45,89.72 472.59,89.72 472.74,89.73 472.89,89.73 473.03,89.73 473.18,89.73 473.33,89.74 473.47,89.74 473.62,89.74 473.77,89.75 473.91,89.75 474.06,89.75 474.21,89.75 474.35,89.76 474.50,89.76 474.65,89.76 474.79,89.77 474.94,89.77 475.09,89.77 475.23,89.77 475.38,89.78 475.53,89.78 475.67,89.78 475.82,89.79 475.97,89.79 476.11,89.79 476.26,89.79 476.41,89.80 476.55,89.80 476.70,89.80 476.85,89.80 476.99,89.81 477.14,89.81 477.29,89.81 477.43,89.82 477.58,89.82 477.73,89.82 477.87,89.82 478.02,89.83 478.17,89.83 478.31,89.83 478.46,89.84 478.61,89.84 478.75,89.84 478.90,89.84 479.05,89.85 479.19,89.85 479.34,89.85 479.49,89.86 479.63,89.86 479.78,89.86 479.93,89.86 480.07,89.87 480.22,89.87 480.37,89.87 480.51,89.87 480.66,89.88 480.81,89.88 480.95,89.88 481.10,89.89 481.25,89.89 481.39,89.89 481.54,89.89 481.69,89.90 481.83,89.90 481.98,89.90 482.13,89.91 482.27,89.91 482.42,89.91 482.57,89.91 482.71,89.92 482.86,89.92 483.01,89.92 483.15,89.93 483.30,89.93 483.45,89.93 483.59,89.93 483.74,89.94 483.89,89.94 484.03,89.94 484.18,89.94 484.33,89.95 484.47,89.95 484.62,89.95 484.77,89.96 484.91,89.96 485.06,89.96 485.21,89.96 485.35,89.97 485.50,89.97 485.65,89.97 485.79,89.98 485.94,89.98 486.09,89.98 486.23,89.98 486.38,89.99 486.53,89.99 486.67,89.99 486.82,90.00 486.97,90.00 487.11,90.00 487.26,90.00 487.41,90.01 487.55,90.01 487.70,90.01 487.85,90.01 487.99,90.02 488.14,90.02 488.29,90.02 488.43,90.03 488.58,90.03 488.73,90.03 488.87,90.03 489.02,90.04 489.17,90.04 489.31,90.04 489.46,90.05 489.61,90.05 489.75,90.04 489.90,90.02 490.05,89.96 490.19,89.79 490.34,89.47 490.49,89.04 490.63,88.64 490.78,88.47 490.93,88.64 491.07,89.05 491.22,89.49 491.37,89.81 491.51,89.99 491.66,90.06 491.81,90.08 491.95,90.09 492.10,90.10 492.25,90.10 492.39,90.10 492.54,90.10 492.69,90.11 492.83,90.11 492.98,90.11 493.13,90.12 493.27,90.12 493.42,90.12 493.57,90.12 493.71,90.13 493.86,90.13 494.01,90.13 494.15,90.14 494.30,90.14 494.45,90.14 494.59,90.14 494.74,90.15 494.89,90.15 495.03,90.15 495.18,90.15 495.33,90.16 495.47,90.16 495.62,90.16 495.77,90.17 495.91,90.17 496.06,90.17 496.21,90.17 496.35,90.18 496.50,90.18 496.65,90.18 496.79,90.19 496.94,90.19 497.09,90.18 497.23,90.16 497.38,90.09 497.53,89.94 497.67,89.70 497.82,89.43 497.97,89.24 498.11,89.24 498.26,89.43 498.41,89.72 498.55,89.96 498.70,90.12 498.85,90.19 498.99,90.22 499.14,90.23 499.29,90.23 499.43,90.24 499.58,90.24 499.73,90.24 499.87,90.24 500.02,90.25 500.17,90.25 500.31,90.25 500.46,90.26 500.61,90.26 500.75,90.26 500.90,90.26 501.05,90.27 501.19,90.27 501.34,90.27 501.49,90.28 501.63,90.28 501.78,90.28 501.93,90.28 502.07,90.29 502.22,90.29 502.37,90.29 502.51,90.29 502.66,90.30 502.81,90.30 502.95,90.30 503.10,90.31 503.25,90.31 503.39,90.31 503.54,90.31 503.69,90.32 503.83,90.32 503.98,90.32 504.13,90.33 504.27,90.33 504.42,90.33 504.57,90.33 504.71,90.34 504.86,90.34 505.01,90.34 505.15,90.35 505.30,90.35 505.45,90.35 505.59,90.35 505.74,90.35 505.89,90.35 506.03,90.33 506.18,90.28 506.33,90.16 506.47,89.97 506.62,89.75 506.77,89.60 506.91,89.60 507.06,89.76 507.21,89.98 507.35,90.18 507.50,90.31 507.65,90.37 507.79,90.39 507.94,90.40 508.09,90.40 508.23,90.40 508.38,90.41 508.53,90.41 508.67,90.41 508.82,90.42 508.97,90.42 509.11,90.42 509.26,90.42 509.41,90.43 509.55,90.43 509.70,90.43 509.85,90.43 509.99,90.44 510.14,90.44 510.29,90.44 510.43,90.45 510.58,90.45 510.73,90.45 510.87,90.45 511.02,90.46 511.17,90.46 511.31,90.46 511.46,90.47 511.61,90.47 511.75,90.47 511.90,90.47 512.05,90.48 512.19,90.48 512.34,90.48 512.49,90.49 512.63,90.49 512.78,90.49 512.93,90.49 513.07,90.50 513.22,90.50 513.37,90.50 513.51,90.50 513.66,90.51 513.81,90.51 513.95,90.51 514.10,90.52 514.25,90.52 514.39,90.52 514.54,90.52 514.69,90.53 514.83,90.53 514.98,90.53 515.13,90.54 515.27,90.54 515.42,90.54 515.57,90.54 515.71,90.55 515.86,90.55 516.01,90.55 516.15,90.56 516.30,90.56 516.45,90.56 516.59,90.56 516.74,90.57 516.89,90.57 517.03,90.57 517.18,90.57 517.33,90.58 517.47,90.58 517.62,90.58 517.77,90.59 517.91,90.59 518.06,90.59 518.21,90.59 518.35,90.60 518.50,90.60" fill="none" stroke="#8eb2dd" stroke-width="0.8" stroke-linejoin="round"/>
<polyline points="386.50,50.30 386.65,50.59 386.79,50.87 386.94,51.14 387.09,51.41 387.23,51.67 387.38,51.93 387.53,52.19 387.67,52.43 387.82,52.68 387.97,52.92 388.11,53.15 388.26,53.38 388.41,53.61 388.55,53.83 388.70,54.05 388.85,54.26 388.99,54.47 389.14,54.67 389.29,54.87 389.43,55.07 389.58,55.26 389.73,55.45 389.87,55.64 390.02,55.82 390.17,56.00 390.31,56.17 390.46,56.34 390.61,56.51 390.75,56.68 390.90,56.84 391.05,57.00 391.19,57.15 391.34,57.30 391.49,57.45 391.63,57.60 391.78,57.74 391.93,57.88 392.07,58.02 392.22,58.16 392.37,58.29 392.51,58.42 392.66,58.55 392.81,58.67 392.95,58.80 393.10,58.92 393.25,59.04 393.39,59.15 393.54,59.26 393.69,59.38 393.83,59.49 393.98,59.59 394.13,59.70 394.27,59.80 394.42,59.90 394.57,60.00 394.71,60.10 394.86,60.19 395.01,60.29 395.15,60.38 395.30,60.47 395.45,60.56 395.59,60.64 395.74,60.73 395.89,60.81 396.03,60.89 396.18,60.97 396.33,61.05 396.47,61.13 396.62,61.20 396.77,61.27 396.91,61.35 397.06,61.42 397.21,61.49 397.35,61.56 397.50,61.62 397.65,61.69 397.79,61.75 397.94,61.82 398.09,61.88 398.23,61.94 398.38,62.00 398.53,62.06 398.67,62.11 398.82,62.17 398.97,62.22 399.11,62.28 399.26,62.33 399.41,62.38 399.55,62.43 399.70,62.48 399.85,62.53 399.99,62.58 400.14,62.63 400.29,62.67 400.43,62.72 400.58,62.76 400.73,62.81 400.87,62.85 401.02,62.89 401.17,62.93 401.31,62.97 401.46,63.01 401.61,63.05 401.75,63.09 401.90,63.12 402.05,63.16 402.19,63.20 402.34,63.23 402.49,63.27 402.63,63.30 402.78,63.33 402.93,63.36 403.07,63.39 403.22,63.39 403.37,63.32 403.51,63.12 403.66,62.71 403.81,62.14 403.95,61.61 404.10,61.40 404.25,61.66 404.39,62.25 404.54,62.87 404.69,63.34 404.83,63.60 404.98,63.72 405.13,63.77 405.27,63.80 405.42,63.83 405.57,63.85 405.71,63.87 405.86,63.90 406.01,63.92 406.15,63.94 406.30,63.96 406.45,63.98 406.59,64.00 406.74,64.02 406.89,64.04 407.03,64.06 407.18,64.07 407.33,64.09 407.47,64.11 407.62,64.13 407.77,64.14 407.91,64.16 408.06,64.18 408.21,64.19 408.35,64.21 408.50,64.22 408.65,64.24 408.79,64.26 408.94,64.28 409.09,64.30 409.23,64.31 409.38,64.32 409.53,64.30 409.67,64.23 409.82,64.09 409.97,63.89 410.11,63.70 410.26,63.63 410.41,63.73 410.55,63.95 410.70,64.19 410.85,64.36 410.99,64.46 411.14,64.51 411.29,64.54 411.43,64.55 411.58,64.57 411.73,64.58 411.87,64.59 412.02,64.61 412.17,64.62 412.31,64.63 412.46,64.65 412.61,64.66 412.75,64.67 412.90,64.68 413.05,64.70 413.19,64.71 413.34,64.72 413.49,64.73 413.63,64.74 413.78,64.76 413.93,64.77 414.07,64.77 414.22,64.74 414.37,64.64 414.51,64.37 414.66,63.87 414.81,63.17 414.95,62.52 415.10,62.25 415.25,62.54 415.39,63.21 415.54,63.93 415.69,64.45 415.83,64.74 415.98,64.86 416.13,64.91 416.27,64.93 416.42,64.94 416.57,64.95 416.71,64.96 416.86,64.97 417.01,64.98 417.15,64.98 417.30,64.99 417.45,65.00 417.59,65.01 417.74,65.02 417.89,65.03 418.03,65.03 418.18,65.04 418.33,65.05 418.47,65.06 418.62,65.07 418.77,65.07 418.91,65.08 419.06,65.09 419.21,65.10 419.35,65.10 419.50,65.11 419.65,65.12 419.79,65.13 419.94,65.13 420.09,65.14 420.23,65.15 420.38,65.15 420.53,65.16 420.67,65.17 420.82,65.18 420.97,65.18 421.11,65.19 421.26,65.20 421.41,65.20 421.55,65.21 421.70,65.21 421.85,65.22 421.99,65.22 422.14,65.19 422.29,65.08 422.43,64.81 422.58,64.30 422.73,63.59 422.87,62.94 423.02,62.67 423.17,62.95 423.31,63.62 423.46,64.33 423.61,64.86 423.75,65.14 423.90,65.26 424.05,65.30 424.19,65.32 424.34,65.32 424.49,65.33 424.63,65.34 424.78,65.34 424.93,65.35 425.07,65.35 425.22,65.34 425.37,65.30 425.51,65.20 425.66,65.01 425.81,64.74 425.95,64.49 426.10,64.39 426.25,64.50 426.39,64.76 426.54,65.04 426.69,65.24 426.83,65.35 426.98,65.40 427.13,65.42 427.27,65.43 427.42,65.44 427.57,65.44 427.71,65.45 427.86,65.45 428.01,65.46 428.15,65.45 428.30,65.39 428.45,64.93 428.59,62.90 428.74,56.78 428.89,44.76 429.03,30.61 429.18,24.00 429.33,30.62 429.47,44.78 429.62,56.81 429.77,62.94 429.91,64.98 430.06,65.44 430.21,65.52 430.35,65.53 430.50,65.54 430.65,65.54 430.79,65.55 430.94,65.55 431.09,65.56 431.23,65.56 431.38,65.57 431.53,65.57 431.67,65.58 431.82,65.58 431.97,65.58 432.11,65.59 432.26,65.59 432.41,65.60 432.55,65.60 432.70,65.61 432.85,65.61 432.99,65.62 433.14,65.62 433.29,65.63 433.43,65.63 433.58,65.63 433.73,65.64 433.87,65.64 434.02,65.65 434.17,65.65 434.31,65.65 434.46,65.65 434.61,65.61 434.75,65.53 434.90,65.38 435.05,65.16 435.19,64.97 435.34,64.89 435.49,64.97 435.63,65.18 435.78,65.40 435.93,65.57 436.07,65.66 436.22,65.70 436.37,65.71 436.51,65.72 436.66,65.72 436.81,65.73 436.95,65.73 437.10,65.74 437.25,65.74 437.39,65.75 437.54,65.75 437.69,65.75 437.83,65.76 437.98,65.76 438.13,65.77 438.27,65.77 438.42,65.77 438.57,65.76 438.71,65.71 438.86,65.56 439.01,65.23 439.15,64.70 439.30,64.09 439.45,63.66 439.59,63.67 439.74,64.10 439.89,64.72 440.03,65.26 440.18,65.59 440.33,65.75 440.47,65.81 440.62,65.83 440.77,65.84 440.91,65.84 441.06,65.85 441.21,65.85 441.35,65.86 441.50,65.86 441.65,65.86 441.79,65.87 441.94,65.87 442.09,65.88 442.23,65.88 442.38,65.88 442.53,65.88 442.67,65.87 442.82,65.81 442.97,65.59 443.11,65.06 443.26,64.07 443.41,62.71 443.55,61.44 443.70,60.92 443.85,61.45 443.99,62.72 444.14,64.09 444.29,65.09 444.43,65.63 444.58,65.85 444.73,65.93 444.87,65.95 445.02,65.96 445.17,65.96 445.31,65.96 445.46,65.97 445.61,65.97 445.75,65.98 445.90,65.98 446.05,65.98 446.19,65.99 446.34,65.99 446.49,66.00 446.63,66.00 446.78,66.00 446.93,66.01 447.07,66.01 447.22,66.02 447.37,66.02 447.51,66.02 447.66,66.03 447.81,66.03 447.95,66.04 448.10,66.04 448.25,66.04 448.39,66.05 448.54,66.05 448.69,66.06 448.83,66.06 448.98,66.06 449.13,66.07 449.27,66.07 449.42,66.08 449.57,66.08 449.71,66.08 449.86,66.09 450.01,66.09 450.15,66.07 450.30,66.01 450.45,65.80 450.59,65.30 450.74,64.35 450.89,63.04 451.03,61.82 451.18,61.32 451.33,61.83 451.47,63.05 451.62,64.37 451.77,65.33 451.91,65.84 452.06,66.06 452.21,66.13 452.35,66.15 452.50,66.16 452.65,66.16 452.79,66.17 452.94,66.17 453.09,66.17 453.23,66.18 453.38,66.18 453.53,66.19 453.67,66.19 453.82,66.19 453.97,66.20 454.11,66.20 454.26,66.20 454.41,66.21 454.55,66.21 454.70,66.22 454.85,66.22 454.99,66.22 455.14,66.23 455.29,66.23 455.43,66.24 455.58,66.24 455.73,66.24 455.87,66.25 456.02,66.25 456.17,66.26 456.31,66.26 456.46,66.26 456.61,66.27 456.75,66.27 456.90,66.27 457.05,66.28 457.19,66.28 457.34,66.29 457.49,66.29 457.63,66.29 457.78,66.30 457.93,66.30 458.07,66.30 458.22,66.30 458.37,66.27 458.51,66.14 458.66,65.77 458.81,64.99 458.95,63.73 459.10,62.28 459.25,61.28 459.39,61.28 459.54,62.29 459.69,63.75 459.83,65.02 459.98,65.81 460.13,66.18 460.27,66.32 460.42,66.36 460.57,66.37 460.71,66.38 460.86,66.38 461.01,66.38 461.15,66.39 461.30,66.39 461.45,66.40 461.59,66.40 461.74,66.40 461.89,66.41 462.03,66.41 462.18,66.41 462.33,66.42 462.47,66.42 462.62,66.43 462.77,66.43 462.91,66.43 463.06,66.44 463.21,66.44 463.35,66.45 463.50,66.45 463.65,66.45 463.79,66.46 463.94,66.46 464.09,66.47 464.23,66.47 464.38,66.47 464.53,66.48 464.67,66.48 464.82,66.48 464.97,66.49 465.11,66.49 465.26,66.50 465.41,66.50 465.55,66.50 465.70,66.51 465.85,66.51 465.99,66.52 466.14,66.52 466.29,66.52 466.43,66.53 466.58,66.53 466.73,66.53 466.87,66.54 467.02,66.54 467.17,66.55 467.31,66.55 467.46,66.55 467.61,66.56 467.75,66.56 467.90,66.55 468.05,66.51 468.19,66.37 468.34,65.94 468.49,65.04 468.63,63.59 468.78,61.92 468.93,60.76 469.07,60.76 469.22,61.93 469.37,63.61 469.51,65.07 469.66,65.98 469.81,66.41 469.95,66.56 470.10,66.60 470.25,66.57 470.39,66.44 470.54,66.05 470.69,65.20 470.83,63.85 470.98,62.29 471.13,61.20 471.27,61.21 471.42,62.30 471.57,63.87 471.71,65.23 471.86,66.08 472.01,66.48 472.15,66.63 472.30,66.67 472.45,66.68 472.59,66.69 472.74,66.69 472.89,66.70 473.03,66.70 473.18,66.71 473.33,66.71 473.47,66.71 473.62,66.72 473.77,66.72 473.91,66.72 474.06,66.73 474.21,66.73 474.35,66.74 474.50,66.74 474.65,66.74 474.79,66.75 474.94,66.75 475.09,66.76 475.23,66.76 475.38,66.76 475.53,66.77 475.67,66.77 475.82,66.77 475.97,66.78 476.11,66.78 476.26,66.79 476.41,66.79 476.55,66.79 476.70,66.80 476.85,66.80 476.99,66.81 477.14,66.81 477.29,66.81 477.43,66.82 477.58,66.82 477.73,66.82 477.87,66.83 478.02,66.83 478.17,66.84 478.31,66.84 478.46,66.84 478.61,66.85 478.75,66.85 478.90,66.86 479.05,66.86 479.19,66.86 479.34,66.87 479.49,66.87 479.63,66.88 479.78,66.88 479.93,66.88 480.07,66.89 480.22,66.89 480.37,66.89 480.51,66.90 480.66,66.90 480.81,66.91 480.95,66.91 481.10,66.91 481.25,66.92 481.39,66.92 481.54,66.93 481.69,66.93 481.83,66.93 481.98,66.94 482.13,66.94 482.27,66.94 482.42,66.95 482.57,66.95 482.71,66.96 482.86,66.96 483.01,66.96 483.15,66.97 483.30,66.97 483.45,66.98 483.59,66.98 483.74,66.98 483.89,66.99 484.03,66.99 484.18,67.00 484.33,67.00 484.47,67.00 484.62,67.01 484.77,67.01 484.91,67.01 485.06,67.02 485.21,67.02 485.35,67.03 485.50,67.03 485.65,67.03 485.79,67.04 485.94,67.04 486.09,67.05 486.23,67.05 486.38,67.05 486.53,67.06 486.67,67.06 486.82,67.06 486.97,67.07 487.11,67.07 487.26,67.08 487.41,67.08 487.55,67.08 487.70,67.09 487.85,67.09 487.99,67.10 488.14,67.10 488.29,67.10 488.43,67.11 488.58,67.11 488.73,67.12 488.87,67.12 489.02,67.12 489.17,67.13 489.31,67.13 489.46,67.13 489.61,67.14 489.75,67.14 489.90,67.12 490.05,67.05 490.19,66.88 490.34,66.57 490.49,66.14 490.63,65.73 490.78,65.57 490.93,65.74 491.07,66.15 491.22,66.59 491.37,66.91 491.51,67.09 491.66,67.16 491.81,67.19 491.95,67.20 492.10,67.20 492.25,67.21 492.39,67.21 492.54,67.22 492.69,67.22 492.83,67.22 492.98,67.23 493.13,67.23 493.27,67.23 493.42,67.24 493.57,67.24 493.71,67.25 493.86,67.25 494.01,67.25 494.15,67.26 494.30,67.26 494.45,67.27 494.59,67.27 494.74,67.27 494.89,67.28 495.03,67.28 495.18,67.29 495.33,67.29 495.47,67.29 495.62,67.30 495.77,67.30 495.91,67.30 496.06,67.31 496.21,67.31 496.35,67.32 496.50,67.32 496.65,67.32 496.79,67.33 496.94,67.33 497.09,67.33 497.23,67.30 497.38,67.24 497.53,67.09 497.67,66.85 497.82,66.58 497.97,66.39 498.11,66.39 498.26,66.59 498.41,66.87 498.55,67.12 498.70,67.27 498.85,67.35 498.99,67.38 499.14,67.39 499.29,67.39 499.43,67.40 499.58,67.40 499.73,67.41 499.87,67.41 500.02,67.41 500.17,67.42 500.31,67.42 500.46,67.42 500.61,67.43 500.75,67.43 500.90,67.44 501.05,67.44 501.19,67.44 501.34,67.45 501.49,67.45 501.63,67.46 501.78,67.46 501.93,67.46 502.07,67.47 502.22,67.47 502.37,67.47 502.51,67.48 502.66,67.48 502.81,67.49 502.95,67.49 503.10,67.49 503.25,67.50 503.39,67.50 503.54,67.51 503.69,67.51 503.83,67.51 503.98,67.52 504.13,67.52 504.27,67.52 504.42,67.53 504.57,67.53 504.71,67.54 504.86,67.54 505.01,67.54 505.15,67.55 505.30,67.55 505.45,67.56 505.59,67.56 505.74,67.56 505.89,67.56 506.03,67.54 506.18,67.49 506.33,67.37 506.47,67.18 506.62,66.96 506.77,66.81 506.91,66.82 507.06,66.98 507.21,67.20 507.35,67.40 507.50,67.53 507.65,67.59 507.79,67.61 507.94,67.62 508.09,67.63 508.23,67.63 508.38,67.63 508.53,67.64 508.67,67.64 508.82,67.64 508.97,67.65 509.11,67.65 509.26,67.66 509.41,67.66 509.55,67.66 509.70,67.67 509.85,67.67 509.99,67.68 510.14,67.68 510.29,67.68 510.43,67.69 510.58,67.69 510.73,67.70 510.87,67.70 511.02,67.70 511.17,67.71 511.31,67.71 511.46,67.71 511.61,67.72 511.75,67.72 511.90,67.73 512.05,67.73 512.19,67.73 512.34,67.74 512.49,67.74 512.63,67.75 512.78,67.75 512.93,67.75 513.07,67.76 513.22,67.76 513.37,67.76 513.51,67.77 513.66,67.77 513.81,67.78 513.95,67.78 514.10,67.78 514.25,67.79 514.39,67.79 514.54,67.80 514.69,67.80 514.83,67.80 514.98,67.81 515.13,67.81 515.27,67.81 515.42,67.82 515.57,67.82 515.71,67.83 515.86,67.83 516.01,67.83 516.15,67.84 516.30,67.84 516.45,67.85 516.59,67.85 516.74,67.85 516.89,67.86 517.03,67.86 517.18,67.87 517.33,67.87 517.47,67.87 517.62,67.88 517.77,67.88 517.91,67.88 518.06,67.89 518.21,67.89 518.35,67.90 518.50,67.90" fill="none" stroke="#de9198" stroke-width="0.8" stroke-linejoin="round"/>
<text x="517.3" y="63.1" text-anchor="end" style="font-family:'Liberation Serif',serif;font-weight:bold;font-size:5.1px">NMK20-14d</text>
<text x="517.3" y="87.4" text-anchor="end" style="font-family:'Liberation Serif',serif;font-weight:bold;font-size:5.1px">NMK10-14d</text>
<text x="517.3" y="111.0" text-anchor="end" style="font-family:'Liberation Serif',serif;font-weight:bold;font-size:5.1px">NMK0-14d</text>
<rect x="386.5" y="11.5" width="132.0" height="106.0" fill="none" stroke="#666" stroke-width="1"/>
<text x="386.5" y="125.1" text-anchor="middle" style="font-family:'Liberation Serif',serif;font-weight:bold;font-size:6px">10</text>
<path d="M408.5,117.5v-1.6" stroke="#333" stroke-width="0.6"/>
<text x="408.5" y="125.1" text-anchor="middle" style="font-family:'Liberation Serif',serif;font-weight:bold;font-size:6px">20</text>
<path d="M430.5,117.5v-1.6" stroke="#333" stroke-width="0.6"/>
<text x="430.5" y="125.1" text-anchor="middle" style="font-family:'Liberation Serif',serif;font-weight:bold;font-size:6px">30</text>
<path d="M452.5,117.5v-1.6" stroke="#333" stroke-width="0.6"/>
<text x="452.5" y="125.1" text-anchor="middle" style="font-family:'Liberation Serif',serif;font-weight:bold;font-size:6px">40</text>
<path d="M474.5,117.5v-1.6" stroke="#333" stroke-width="0.6"/>
<text x="474.5" y="125.1" text-anchor="middle" style="font-family:'Liberation Serif',serif;font-weight:bold;font-size:6px">50</text>
<path d="M496.5,117.5v-1.6" stroke="#333" stroke-width="0.6"/>
<text x="496.5" y="125.1" text-anchor="middle" style="font-family:'Liberation Serif',serif;font-weight:bold;font-size:6px">60</text>
<text x="518.5" y="125.1" text-anchor="middle" style="font-family:'Liberation Serif',serif;font-weight:bold;font-size:6px">70</text>
<path d="M397.5,117.5v-1" stroke="#333" stroke-width="0.5"/>
<path d="M419.5,117.5v-1" stroke="#333" stroke-width="0.5"/>
<path d="M441.5,117.5v-1" stroke="#333" stroke-width="0.5"/>
<path d="M463.5,117.5v-1" stroke="#333" stroke-width="0.5"/>
<path d="M485.5,117.5v-1" stroke="#333" stroke-width="0.5"/>
<path d="M507.5,117.5v-1" stroke="#333" stroke-width="0.5"/>
<text x="451.7" y="134.8" text-anchor="middle" style="font-family:'Liberation Serif',serif;font-weight:bold;font-size:8.3px">2θ (°)</text>
<text transform="translate(381.7,64) rotate(-90)" text-anchor="middle" style="font-family:'Liberation Serif',serif;font-weight:bold;font-size:8.2px">Intensity (a.u.)</text>
<text x="491.1" y="17.6" style="font-family:'Liberation Serif',serif;font-size:5.2px;fill:#000">1 Quartz</text>
<text x="491.1" y="23.7" style="font-family:'Liberation Serif',serif;font-size:5.2px;fill:#000">2 Calcite</text>
<text x="491.1" y="29.8" style="font-family:'Liberation Serif',serif;font-size:5.2px;fill:#000">3 Portlandite</text>
<text x="491.1" y="35.9" style="font-family:'Liberation Serif',serif;font-size:5.2px;fill:#000">4 Larnite</text>
<text x="491.1" y="42.0" style="font-family:'Liberation Serif',serif;font-size:5.2px;fill:#000">5 Albite</text>
<rect x="401.0" y="55.6" width="5.7" height="60.7" fill="none" stroke="#7fe0cb" stroke-width="0.85"/>
<rect x="437.5" y="59.3" width="4.2" height="57.0" fill="none" stroke="#7fe0cb" stroke-width="0.85"/>
<text x="404.1" y="62.0" text-anchor="middle" style="font-family:'Liberation Serif',serif;font-size:4.2px;fill:#444">3</text>
<text x="412.0" y="60.6" text-anchor="middle" style="font-family:'Liberation Serif',serif;font-size:4.2px;fill:#444">3</text>
<text x="415.5" y="59.0" text-anchor="middle" style="font-family:'Liberation Serif',serif;font-size:4.2px;fill:#444">15</text>
<text x="422.6" y="59.6" text-anchor="middle" style="font-family:'Liberation Serif',serif;font-size:4.2px;fill:#444">1</text>
<text x="426.1" y="61.2" text-anchor="middle" style="font-family:'Liberation Serif',serif;font-size:4.2px;fill:#444">5</text>
<text x="429.2" y="22.3" text-anchor="middle" style="font-family:'Liberation Serif',serif;font-size:4.2px;fill:#444">2</text>
<text x="435.6" y="60.3" text-anchor="middle" style="font-family:'Liberation Serif',serif;font-size:4.2px;fill:#444">4</text>
<text x="439.7" y="62.0" text-anchor="middle" style="font-family:'Liberation Serif',serif;font-size:4.2px;fill:#444">3</text>
<text x="443.7" y="58.6" text-anchor="middle" style="font-family:'Liberation Serif',serif;font-size:4.2px;fill:#444">2</text>
<text x="451.2" y="58.4" text-anchor="middle" style="font-family:'Liberation Serif',serif;font-size:4.2px;fill:#444">2</text>
<text x="459.3" y="58.6" text-anchor="middle" style="font-family:'Liberation Serif',serif;font-size:4.2px;fill:#444">2</text>
<text x="469.0" y="57.8" text-anchor="middle" style="font-family:'Liberation Serif',serif;font-size:4.2px;fill:#444">2</text>
<text x="471.4" y="58.4" text-anchor="middle" style="font-family:'Liberation Serif',serif;font-size:4.2px;fill:#444">3</text>
<text x="524.8" y="10.0" style="font-family:'Liberation Serif',serif;font-weight:bold;font-size:13.6px">(d)</text>
<polyline points="548.50,96.80 548.65,97.07 548.79,97.33 548.94,97.59 549.09,97.85 549.23,98.10 549.38,98.34 549.53,98.58 549.67,98.82 549.82,99.05 549.97,99.27 550.11,99.50 550.26,99.71 550.41,99.93 550.55,100.14 550.70,100.34 550.85,100.54 550.99,100.74 551.14,100.93 551.29,101.12 551.43,101.31 551.58,101.49 551.73,101.67 551.87,101.85 552.02,102.02 552.17,102.19 552.31,102.35 552.46,102.51 552.61,102.67 552.75,102.83 552.90,102.98 553.05,103.13 553.19,103.28 553.34,103.42 553.49,103.56 553.63,103.70 553.78,103.84 553.93,103.97 554.07,104.10 554.22,104.23 554.37,104.36 554.51,104.48 554.66,104.60 554.81,104.72 554.95,104.83 555.10,104.95 555.25,105.06 555.39,105.17 555.54,105.28 555.69,105.38 555.83,105.49 555.98,105.59 556.13,105.69 556.27,105.78 556.42,105.88 556.57,105.97 556.71,106.06 556.86,106.15 557.01,106.24 557.15,106.33 557.30,106.41 557.45,106.50 557.59,106.58 557.74,106.66 557.89,106.74 558.03,106.81 558.18,106.89 558.33,106.96 558.47,107.04 558.62,107.11 558.77,107.18 558.91,107.25 559.06,107.31 559.21,107.38 559.35,107.44 559.50,107.51 559.65,107.57 559.79,107.63 559.94,107.69 560.09,107.75 560.23,107.80 560.38,107.86 560.53,107.92 560.67,107.97 560.82,108.02 560.97,108.07 561.11,108.13 561.26,108.18 561.41,108.22 561.55,108.27 561.70,108.32 561.85,108.37 561.99,108.41 562.14,108.46 562.29,108.50 562.43,108.54 562.58,108.58 562.73,108.63 562.87,108.67 563.02,108.70 563.17,108.74 563.31,108.78 563.46,108.82 563.61,108.86 563.75,108.89 563.90,108.93 564.05,108.96 564.19,108.99 564.34,109.03 564.49,109.06 564.63,109.09 564.78,109.12 564.93,109.15 565.07,109.17 565.22,109.16 565.37,109.06 565.51,108.76 565.66,108.19 565.81,107.40 565.95,106.67 566.10,106.38 566.25,106.72 566.39,107.51 566.54,108.35 566.69,108.97 566.83,109.32 566.98,109.47 567.13,109.53 567.27,109.57 567.42,109.59 567.57,109.61 567.71,109.63 567.86,109.66 568.01,109.68 568.15,109.70 568.30,109.72 568.45,109.73 568.59,109.75 568.74,109.77 568.89,109.79 569.03,109.81 569.18,109.82 569.33,109.84 569.47,109.86 569.62,109.87 569.77,109.89 569.91,109.91 570.06,109.92 570.21,109.94 570.35,109.95 570.50,109.97 570.65,109.98 570.79,110.00 570.94,110.02 571.09,110.03 571.23,110.05 571.38,110.05 571.53,110.03 571.67,109.97 571.82,109.82 571.97,109.62 572.11,109.43 572.26,109.36 572.41,109.46 572.55,109.68 572.70,109.91 572.85,110.08 572.99,110.18 573.14,110.23 573.29,110.26 573.43,110.27 573.58,110.29 573.73,110.30 573.87,110.31 574.02,110.32 574.17,110.34 574.31,110.35 574.46,110.36 574.61,110.37 574.75,110.38 574.90,110.40 575.05,110.41 575.19,110.42 575.34,110.43 575.49,110.44 575.63,110.45 575.78,110.46 575.93,110.47 576.07,110.47 576.22,110.42 576.37,110.25 576.51,109.84 576.66,109.05 576.81,107.97 576.95,106.96 577.10,106.55 577.25,106.98 577.39,108.01 577.54,109.11 577.69,109.91 577.83,110.35 577.98,110.53 578.13,110.60 578.27,110.62 578.42,110.63 578.57,110.64 578.71,110.65 578.86,110.66 579.01,110.67 579.15,110.67 579.30,110.68 579.45,110.69 579.59,110.70 579.74,110.70 579.89,110.71 580.03,110.72 580.18,110.73 580.33,110.73 580.47,110.74 580.62,110.75 580.77,110.76 580.91,110.76 581.06,110.77 581.21,110.78 581.35,110.78 581.50,110.79 581.65,110.80 581.79,110.80 581.94,110.81 582.09,110.82 582.23,110.82 582.38,110.83 582.53,110.84 582.67,110.84 582.82,110.85 582.97,110.86 583.11,110.86 583.26,110.87 583.41,110.87 583.55,110.88 583.70,110.89 583.85,110.89 583.99,110.88 584.14,110.83 584.29,110.66 584.43,110.24 584.58,109.45 584.73,108.36 584.87,107.35 585.02,106.94 585.17,107.36 585.31,108.38 585.46,109.48 585.61,110.28 585.75,110.72 585.90,110.90 586.05,110.96 586.19,110.98 586.34,110.99 586.49,110.99 586.63,111.00 586.78,111.00 586.93,111.01 587.07,111.01 587.22,111.00 587.37,110.96 587.51,110.86 587.66,110.66 587.81,110.40 587.95,110.15 588.10,110.05 588.25,110.16 588.39,110.41 588.54,110.69 588.69,110.90 588.83,111.01 588.98,111.06 589.13,111.08 589.27,111.08 589.42,111.09 589.57,111.09 589.71,111.10 589.86,111.10 590.01,111.11 590.15,111.11 590.30,111.06 590.45,110.73 590.59,109.26 590.74,104.84 590.89,96.15 591.03,85.92 591.18,81.14 591.33,85.93 591.47,96.17 591.62,104.87 591.77,109.29 591.91,110.77 592.06,111.11 592.21,111.17 592.35,111.18 592.50,111.18 592.65,111.19 592.79,111.19 592.94,111.19 593.09,111.20 593.23,111.20 593.38,111.21 593.53,111.21 593.67,111.21 593.82,111.22 593.97,111.22 594.11,111.23 594.26,111.23 594.41,111.24 594.55,111.24 594.70,111.24 594.85,111.25 594.99,111.25 595.14,111.26 595.29,111.26 595.43,111.26 595.58,111.27 595.73,111.27 595.87,111.28 596.02,111.28 596.17,111.28 596.31,111.28 596.46,111.28 596.61,111.24 596.75,111.16 596.90,111.01 597.05,110.79 597.19,110.59 597.34,110.51 597.49,110.60 597.63,110.81 597.78,111.03 597.93,111.19 598.07,111.28 598.22,111.32 598.37,111.34 598.51,111.34 598.66,111.35 598.81,111.35 598.95,111.36 599.10,111.36 599.25,111.36 599.39,111.37 599.54,111.37 599.69,111.38 599.83,111.38 599.98,111.38 600.13,111.39 600.27,111.39 600.42,111.39 600.57,111.38 600.71,111.33 600.86,111.19 601.01,110.90 601.15,110.41 601.30,109.86 601.45,109.47 601.59,109.48 601.74,109.87 601.89,110.43 602.03,110.92 602.18,111.23 602.33,111.37 602.47,111.43 602.62,111.45 602.77,111.45 602.91,111.46 603.06,111.46 603.21,111.46 603.35,111.47 603.50,111.47 603.65,111.47 603.79,111.48 603.94,111.48 604.09,111.49 604.23,111.49 604.38,111.49 604.53,111.49 604.67,111.48 604.82,111.43 604.97,111.26 605.11,110.83 605.26,110.04 605.41,108.95 605.55,107.94 605.70,107.53 605.85,107.95 605.99,108.97 606.14,110.06 606.29,110.86 606.43,111.29 606.58,111.47 606.73,111.53 606.87,111.55 607.02,111.56 607.17,111.56 607.31,111.56 607.46,111.57 607.61,111.57 607.75,111.58 607.90,111.58 608.05,111.58 608.19,111.59 608.34,111.59 608.49,111.59 608.63,111.60 608.78,111.60 608.93,111.60 609.07,111.61 609.22,111.61 609.37,111.61 609.51,111.62 609.66,111.62 609.81,111.63 609.95,111.63 610.10,111.63 610.25,111.64 610.39,111.64 610.54,111.64 610.69,111.65 610.83,111.65 610.98,111.65 611.13,111.66 611.27,111.66 611.42,111.66 611.57,111.67 611.71,111.67 611.86,111.67 612.01,111.67 612.15,111.66 612.30,111.59 612.45,111.38 612.59,110.85 612.74,109.86 612.89,108.49 613.03,107.23 613.18,106.71 613.33,107.24 613.47,108.51 613.62,109.88 613.77,110.88 613.91,111.41 614.06,111.64 614.21,111.71 614.35,111.73 614.50,111.74 614.65,111.74 614.79,111.74 614.94,111.75 615.09,111.75 615.23,111.76 615.38,111.76 615.53,111.76 615.67,111.77 615.82,111.77 615.97,111.77 616.11,111.78 616.26,111.78 616.41,111.78 616.55,111.79 616.70,111.79 616.85,111.79 616.99,111.80 617.14,111.80 617.29,111.80 617.43,111.81 617.58,111.81 617.73,111.81 617.87,111.82 618.02,111.82 618.17,111.83 618.31,111.83 618.46,111.83 618.61,111.84 618.75,111.84 618.90,111.84 619.05,111.85 619.19,111.85 619.34,111.85 619.49,111.86 619.63,111.86 619.78,111.86 619.93,111.87 620.07,111.87 620.22,111.87 620.37,111.84 620.51,111.74 620.66,111.46 620.81,110.86 620.95,109.89 621.10,108.78 621.25,108.01 621.39,108.01 621.54,108.79 621.69,109.91 621.83,110.89 621.98,111.49 622.13,111.78 622.27,111.89 622.42,111.92 622.57,111.93 622.71,111.93 622.86,111.94 623.01,111.94 623.15,111.94 623.30,111.95 623.45,111.95 623.59,111.95 623.74,111.96 623.89,111.96 624.03,111.96 624.18,111.97 624.33,111.97 624.47,111.98 624.62,111.98 624.77,111.98 624.91,111.99 625.06,111.99 625.21,111.99 625.35,112.00 625.50,112.00 625.65,112.00 625.79,112.01 625.94,112.01 626.09,112.01 626.23,112.02 626.38,112.02 626.53,112.02 626.67,112.03 626.82,112.03 626.97,112.03 627.11,112.04 627.26,112.04 627.41,112.04 627.55,112.05 627.70,112.05 627.85,112.06 627.99,112.06 628.14,112.06 628.29,112.07 628.43,112.07 628.58,112.07 628.73,112.08 628.87,112.08 629.02,112.08 629.17,112.09 629.31,112.09 629.46,112.09 629.61,112.10 629.75,112.10 629.90,112.09 630.05,112.05 630.19,111.90 630.34,111.48 630.49,110.58 630.63,109.12 630.78,107.45 630.93,106.29 631.07,106.30 631.22,107.46 631.37,109.14 631.51,110.60 631.66,111.51 631.81,111.94 631.95,112.10 632.10,112.13 632.25,112.11 632.39,111.99 632.54,111.64 632.69,110.89 632.83,109.68 632.98,108.28 633.13,107.32 633.27,107.32 633.42,108.29 633.57,109.69 633.71,110.91 633.86,111.67 634.01,112.03 634.15,112.16 634.30,112.20 634.45,112.21 634.59,112.21 634.74,112.22 634.89,112.22 635.03,112.23 635.18,112.23 635.33,112.23 635.47,112.24 635.62,112.24 635.77,112.24 635.91,112.25 636.06,112.25 636.21,112.25 636.35,112.26 636.50,112.26 636.65,112.26 636.79,112.27 636.94,112.27 637.09,112.27 637.23,112.28 637.38,112.28 637.53,112.28 637.67,112.29 637.82,112.29 637.97,112.29 638.11,112.30 638.26,112.30 638.41,112.30 638.55,112.31 638.70,112.31 638.85,112.32 638.99,112.32 639.14,112.32 639.29,112.33 639.43,112.33 639.58,112.33 639.73,112.34 639.87,112.34 640.02,112.34 640.17,112.35 640.31,112.35 640.46,112.35 640.61,112.36 640.75,112.36 640.90,112.36 641.05,112.37 641.19,112.37 641.34,112.37 641.49,112.38 641.63,112.38 641.78,112.38 641.93,112.39 642.07,112.39 642.22,112.40 642.37,112.40 642.51,112.40 642.66,112.41 642.81,112.41 642.95,112.41 643.10,112.42 643.25,112.42 643.39,112.42 643.54,112.43 643.69,112.43 643.83,112.43 643.98,112.44 644.13,112.44 644.27,112.44 644.42,112.45 644.57,112.45 644.71,112.45 644.86,112.46 645.01,112.46 645.15,112.46 645.30,112.47 645.45,112.47 645.59,112.47 645.74,112.48 645.89,112.48 646.03,112.49 646.18,112.49 646.33,112.49 646.47,112.50 646.62,112.50 646.77,112.50 646.91,112.51 647.06,112.51 647.21,112.51 647.35,112.52 647.50,112.52 647.65,112.52 647.79,112.53 647.94,112.53 648.09,112.53 648.23,112.54 648.38,112.54 648.53,112.54 648.67,112.55 648.82,112.55 648.97,112.55 649.11,112.56 649.26,112.56 649.41,112.57 649.55,112.57 649.70,112.57 649.85,112.58 649.99,112.58 650.14,112.58 650.29,112.59 650.43,112.59 650.58,112.59 650.73,112.60 650.87,112.60 651.02,112.60 651.17,112.61 651.31,112.61 651.46,112.61 651.61,112.62 651.75,112.61 651.90,112.60 652.05,112.54 652.19,112.39 652.34,112.12 652.49,111.74 652.63,111.39 652.78,111.24 652.93,111.40 653.07,111.75 653.22,112.14 653.37,112.42 653.51,112.58 653.66,112.64 653.81,112.66 653.95,112.67 654.10,112.68 654.25,112.68 654.39,112.68 654.54,112.69 654.69,112.69 654.83,112.69 654.98,112.70 655.13,112.70 655.27,112.70 655.42,112.71 655.57,112.71 655.71,112.71 655.86,112.72 656.01,112.72 656.15,112.72 656.30,112.73 656.45,112.73 656.59,112.73 656.74,112.74 656.89,112.74 657.03,112.75 657.18,112.75 657.33,112.75 657.47,112.76 657.62,112.76 657.77,112.76 657.91,112.77 658.06,112.77 658.21,112.77 658.35,112.78 658.50,112.78 658.65,112.78 658.79,112.79 658.94,112.79 659.09,112.78 659.23,112.76 659.38,112.70 659.53,112.55 659.67,112.31 659.82,112.03 659.97,111.84 660.11,111.85 660.26,112.04 660.41,112.33 660.55,112.57 660.70,112.73 660.85,112.80 660.99,112.83 661.14,112.84 661.29,112.85 661.43,112.85 661.58,112.85 661.73,112.86 661.87,112.86 662.02,112.86 662.17,112.87 662.31,112.87 662.46,112.87 662.61,112.88 662.75,112.88 662.90,112.88 663.05,112.89 663.19,112.89 663.34,112.89 663.49,112.90 663.63,112.90 663.78,112.90 663.93,112.91 664.07,112.91 664.22,112.92 664.37,112.92 664.51,112.92 664.66,112.93 664.81,112.93 664.95,112.93 665.10,112.94 665.25,112.94 665.39,112.94 665.54,112.95 665.69,112.95 665.83,112.95 665.98,112.96 666.13,112.96 666.27,112.96 666.42,112.97 666.57,112.97 666.71,112.97 666.86,112.98 667.01,112.98 667.15,112.98 667.30,112.99 667.45,112.99 667.59,112.99 667.74,113.00 667.89,112.99 668.03,112.98 668.18,112.92 668.33,112.81 668.47,112.62 668.62,112.40 668.77,112.24 668.91,112.25 669.06,112.41 669.21,112.63 669.35,112.83 669.50,112.96 669.65,113.02 669.79,113.04 669.94,113.05 670.09,113.05 670.23,113.06 670.38,113.06 670.53,113.06 670.67,113.07 670.82,113.07 670.97,113.07 671.11,113.08 671.26,113.08 671.41,113.09 671.55,113.09 671.70,113.09 671.85,113.10 671.99,113.10 672.14,113.10 672.29,113.11 672.43,113.11 672.58,113.11 672.73,113.12 672.87,113.12 673.02,113.12 673.17,113.13 673.31,113.13 673.46,113.13 673.61,113.14 673.75,113.14 673.90,113.14 674.05,113.15 674.19,113.15 674.34,113.15 674.49,113.16 674.63,113.16 674.78,113.16 674.93,113.17 675.07,113.17 675.22,113.18 675.37,113.18 675.51,113.18 675.66,113.19 675.81,113.19 675.95,113.19 676.10,113.20 676.25,113.20 676.39,113.20 676.54,113.21 676.69,113.21 676.83,113.21 676.98,113.22 677.13,113.22 677.27,113.22 677.42,113.23 677.57,113.23 677.71,113.23 677.86,113.24 678.01,113.24 678.15,113.24 678.30,113.25 678.45,113.25 678.59,113.25 678.74,113.26 678.89,113.26 679.03,113.27 679.18,113.27 679.33,113.27 679.47,113.28 679.62,113.28 679.77,113.28 679.91,113.29 680.06,113.29 680.21,113.29 680.35,113.30 680.50,113.30" fill="none" stroke="#d3e3bf" stroke-width="0.8" stroke-linejoin="round"/>
<polyline points="548.50,75.60 548.65,75.86 548.79,76.12 548.94,76.38 549.09,76.63 549.23,76.87 549.38,77.11 549.53,77.34 549.67,77.57 549.82,77.80 549.97,78.02 550.11,78.24 550.26,78.45 550.41,78.66 550.55,78.86 550.70,79.07 550.85,79.26 550.99,79.46 551.14,79.64 551.29,79.83 551.43,80.01 551.58,80.19 551.73,80.37 551.87,80.54 552.02,80.70 552.17,80.87 552.31,81.03 552.46,81.19 552.61,81.35 552.75,81.50 552.90,81.65 553.05,81.79 553.19,81.94 553.34,82.08 553.49,82.22 553.63,82.35 553.78,82.49 553.93,82.62 554.07,82.74 554.22,82.87 554.37,82.99 554.51,83.11 554.66,83.23 554.81,83.35 554.95,83.46 555.10,83.57 555.25,83.68 555.39,83.79 555.54,83.89 555.69,84.00 555.83,84.10 555.98,84.20 556.13,84.29 556.27,84.39 556.42,84.48 556.57,84.57 556.71,84.66 556.86,84.75 557.01,84.84 557.15,84.92 557.30,85.01 557.45,85.09 557.59,85.17 557.74,85.25 557.89,85.32 558.03,85.40 558.18,85.47 558.33,85.54 558.47,85.62 558.62,85.68 558.77,85.75 558.91,85.82 559.06,85.89 559.21,85.95 559.35,86.01 559.50,86.07 559.65,86.14 559.79,86.20 559.94,86.25 560.09,86.31 560.23,86.37 560.38,86.42 560.53,86.48 560.67,86.53 560.82,86.58 560.97,86.63 561.11,86.68 561.26,86.73 561.41,86.78 561.55,86.83 561.70,86.87 561.85,86.92 561.99,86.96 562.14,87.00 562.29,87.05 562.43,87.09 562.58,87.13 562.73,87.17 562.87,87.21 563.02,87.25 563.17,87.29 563.31,87.32 563.46,87.36 563.61,87.40 563.75,87.43 563.90,87.46 564.05,87.50 564.19,87.53 564.34,87.56 564.49,87.60 564.63,87.63 564.78,87.66 564.93,87.68 565.07,87.70 565.22,87.69 565.37,87.59 565.51,87.29 565.66,86.72 565.81,85.93 565.95,85.20 566.10,84.91 566.25,85.25 566.39,86.03 566.54,86.88 566.69,87.50 566.83,87.84 566.98,88.00 567.13,88.06 567.27,88.09 567.42,88.12 567.57,88.14 567.71,88.16 567.86,88.18 568.01,88.20 568.15,88.22 568.30,88.24 568.45,88.26 568.59,88.27 568.74,88.29 568.89,88.31 569.03,88.33 569.18,88.34 569.33,88.36 569.47,88.38 569.62,88.39 569.77,88.41 569.91,88.42 570.06,88.44 570.21,88.45 570.35,88.47 570.50,88.48 570.65,88.50 570.79,88.52 570.94,88.53 571.09,88.55 571.23,88.56 571.38,88.57 571.53,88.55 571.67,88.48 571.82,88.33 571.97,88.13 572.11,87.94 572.26,87.87 572.41,87.97 572.55,88.19 572.70,88.42 572.85,88.60 572.99,88.69 573.14,88.74 573.29,88.77 573.43,88.78 573.58,88.80 573.73,88.81 573.87,88.82 574.02,88.83 574.17,88.85 574.31,88.86 574.46,88.87 574.61,88.88 574.75,88.89 574.90,88.91 575.05,88.92 575.19,88.93 575.34,88.94 575.49,88.95 575.63,88.96 575.78,88.97 575.93,88.98 576.07,88.98 576.22,88.95 576.37,88.82 576.51,88.51 576.66,87.93 576.81,87.12 576.95,86.36 577.10,86.06 577.25,86.38 577.39,87.15 577.54,87.98 577.69,88.59 577.83,88.92 577.98,89.06 578.13,89.11 578.27,89.13 578.42,89.14 578.57,89.15 578.71,89.15 578.86,89.16 579.01,89.17 579.15,89.18 579.30,89.19 579.45,89.19 579.59,89.20 579.74,89.21 579.89,89.22 580.03,89.22 580.18,89.23 580.33,89.24 580.47,89.25 580.62,89.25 580.77,89.26 580.91,89.27 581.06,89.27 581.21,89.28 581.35,89.29 581.50,89.29 581.65,89.30 581.79,89.31 581.94,89.31 582.09,89.32 582.23,89.33 582.38,89.33 582.53,89.34 582.67,89.35 582.82,89.35 582.97,89.36 583.11,89.37 583.26,89.37 583.41,89.38 583.55,89.38 583.70,89.39 583.85,89.39 583.99,89.39 584.14,89.35 584.29,89.23 584.43,88.91 584.58,88.32 584.73,87.51 584.87,86.75 585.02,86.44 585.17,86.76 585.31,87.53 585.46,88.35 585.61,88.95 585.75,89.28 585.90,89.42 586.05,89.46 586.19,89.48 586.34,89.49 586.49,89.49 586.63,89.50 586.78,89.50 586.93,89.51 587.07,89.51 587.22,89.50 587.37,89.46 587.51,89.36 587.66,89.17 587.81,88.90 587.95,88.65 588.10,88.55 588.25,88.66 588.39,88.92 588.54,89.19 588.69,89.40 588.83,89.51 588.98,89.56 589.13,89.58 589.27,89.58 589.42,89.59 589.57,89.59 589.71,89.60 589.86,89.60 590.01,89.61 590.15,89.61 590.30,89.55 590.45,89.15 590.59,87.39 590.74,82.08 590.89,71.66 591.03,59.38 591.18,53.64 591.33,59.39 591.47,71.68 591.62,82.11 591.77,87.42 591.91,89.20 592.06,89.60 592.21,89.67 592.35,89.68 592.50,89.68 592.65,89.69 592.79,89.69 592.94,89.69 593.09,89.70 593.23,89.70 593.38,89.71 593.53,89.71 593.67,89.72 593.82,89.72 593.97,89.72 594.11,89.73 594.26,89.73 594.41,89.74 594.55,89.74 594.70,89.74 594.85,89.75 594.99,89.75 595.14,89.76 595.29,89.76 595.43,89.76 595.58,89.77 595.73,89.77 595.87,89.78 596.02,89.78 596.17,89.78 596.31,89.78 596.46,89.78 596.61,89.75 596.75,89.66 596.90,89.51 597.05,89.29 597.19,89.09 597.34,89.01 597.49,89.10 597.63,89.31 597.78,89.53 597.93,89.69 598.07,89.78 598.22,89.82 598.37,89.84 598.51,89.84 598.66,89.85 598.81,89.85 598.95,89.86 599.10,89.86 599.25,89.86 599.39,89.87 599.54,89.87 599.69,89.88 599.83,89.88 599.98,89.88 600.13,89.89 600.27,89.89 600.42,89.89 600.57,89.88 600.71,89.83 600.86,89.69 601.01,89.40 601.15,88.91 601.30,88.36 601.45,87.97 601.59,87.98 601.74,88.37 601.89,88.93 602.03,89.42 602.18,89.73 602.33,89.87 602.47,89.93 602.62,89.95 602.77,89.95 602.91,89.96 603.06,89.96 603.21,89.96 603.35,89.97 603.50,89.97 603.65,89.97 603.79,89.98 603.94,89.98 604.09,89.99 604.23,89.99 604.38,89.99 604.53,89.99 604.67,89.99 604.82,89.95 604.97,89.82 605.11,89.50 605.26,88.91 605.41,88.09 605.55,87.34 605.70,87.03 605.85,87.34 605.99,88.11 606.14,88.93 606.29,89.53 606.43,89.86 606.58,89.99 606.73,90.04 606.87,90.05 607.02,90.06 607.17,90.06 607.31,90.06 607.46,90.07 607.61,90.07 607.75,90.08 607.90,90.08 608.05,90.08 608.19,90.09 608.34,90.09 608.49,90.09 608.63,90.10 608.78,90.10 608.93,90.10 609.07,90.11 609.22,90.11 609.37,90.11 609.51,90.12 609.66,90.12 609.81,90.13 609.95,90.13 610.10,90.13 610.25,90.14 610.39,90.14 610.54,90.14 610.69,90.15 610.83,90.15 610.98,90.15 611.13,90.16 611.27,90.16 611.42,90.16 611.57,90.17 611.71,90.17 611.86,90.17 612.01,90.18 612.15,90.16 612.30,90.11 612.45,89.94 612.59,89.52 612.74,88.72 612.89,87.63 613.03,86.62 613.18,86.21 613.33,86.63 613.47,87.65 613.62,88.75 613.77,89.54 613.91,89.98 614.06,90.15 614.21,90.21 614.35,90.23 614.50,90.24 614.65,90.24 614.79,90.25 614.94,90.25 615.09,90.25 615.23,90.26 615.38,90.26 615.53,90.26 615.67,90.27 615.82,90.27 615.97,90.27 616.11,90.28 616.26,90.28 616.41,90.28 616.55,90.29 616.70,90.29 616.85,90.29 616.99,90.30 617.14,90.30 617.29,90.30 617.43,90.31 617.58,90.31 617.73,90.31 617.87,90.32 618.02,90.32 618.17,90.33 618.31,90.33 618.46,90.33 618.61,90.34 618.75,90.34 618.90,90.34 619.05,90.35 619.19,90.35 619.34,90.35 619.49,90.36 619.63,90.36 619.78,90.36 619.93,90.37 620.07,90.37 620.22,90.37 620.37,90.34 620.51,90.24 620.66,89.96 620.81,89.36 620.95,88.39 621.10,87.28 621.25,86.51 621.39,86.51 621.54,87.29 621.69,88.41 621.83,89.39 621.98,89.99 622.13,90.28 622.27,90.39 622.42,90.42 622.57,90.43 622.71,90.43 622.86,90.44 623.01,90.44 623.15,90.44 623.30,90.45 623.45,90.45 623.59,90.45 623.74,90.46 623.89,90.46 624.03,90.46 624.18,90.47 624.33,90.47 624.47,90.48 624.62,90.48 624.77,90.48 624.91,90.49 625.06,90.49 625.21,90.49 625.35,90.50 625.50,90.50 625.65,90.50 625.79,90.51 625.94,90.51 626.09,90.51 626.23,90.52 626.38,90.52 626.53,90.52 626.67,90.53 626.82,90.53 626.97,90.53 627.11,90.54 627.26,90.54 627.41,90.54 627.55,90.55 627.70,90.55 627.85,90.56 627.99,90.56 628.14,90.56 628.29,90.57 628.43,90.57 628.58,90.57 628.73,90.58 628.87,90.58 629.02,90.58 629.17,90.59 629.31,90.59 629.46,90.59 629.61,90.60 629.75,90.60 629.90,90.59 630.05,90.55 630.19,90.40 630.34,89.98 630.49,89.08 630.63,87.62 630.78,85.95 630.93,84.79 631.07,84.80 631.22,85.96 631.37,87.64 631.51,89.10 631.66,90.01 631.81,90.44 631.95,90.60 632.10,90.63 632.25,90.61 632.39,90.49 632.54,90.14 632.69,89.39 632.83,88.18 632.98,86.78 633.13,85.82 633.27,85.82 633.42,86.79 633.57,88.19 633.71,89.41 633.86,90.17 634.01,90.53 634.15,90.66 634.30,90.70 634.45,90.71 634.59,90.71 634.74,90.72 634.89,90.72 635.03,90.73 635.18,90.73 635.33,90.73 635.47,90.74 635.62,90.74 635.77,90.74 635.91,90.75 636.06,90.75 636.21,90.75 636.35,90.76 636.50,90.76 636.65,90.76 636.79,90.77 636.94,90.77 637.09,90.77 637.23,90.78 637.38,90.78 637.53,90.78 637.67,90.79 637.82,90.79 637.97,90.79 638.11,90.80 638.26,90.80 638.41,90.80 638.55,90.81 638.70,90.81 638.85,90.82 638.99,90.82 639.14,90.82 639.29,90.83 639.43,90.83 639.58,90.83 639.73,90.84 639.87,90.84 640.02,90.84 640.17,90.85 640.31,90.85 640.46,90.85 640.61,90.86 640.75,90.86 640.90,90.86 641.05,90.87 641.19,90.87 641.34,90.87 641.49,90.88 641.63,90.88 641.78,90.88 641.93,90.89 642.07,90.89 642.22,90.90 642.37,90.90 642.51,90.90 642.66,90.91 642.81,90.91 642.95,90.91 643.10,90.92 643.25,90.92 643.39,90.92 643.54,90.93 643.69,90.93 643.83,90.93 643.98,90.94 644.13,90.94 644.27,90.94 644.42,90.95 644.57,90.95 644.71,90.95 644.86,90.96 645.01,90.96 645.15,90.96 645.30,90.97 645.45,90.97 645.59,90.97 645.74,90.98 645.89,90.98 646.03,90.99 646.18,90.99 646.33,90.99 646.47,91.00 646.62,91.00 646.77,91.00 646.91,91.01 647.06,91.01 647.21,91.01 647.35,91.02 647.50,91.02 647.65,91.02 647.79,91.03 647.94,91.03 648.09,91.03 648.23,91.04 648.38,91.04 648.53,91.04 648.67,91.05 648.82,91.05 648.97,91.05 649.11,91.06 649.26,91.06 649.41,91.07 649.55,91.07 649.70,91.07 649.85,91.08 649.99,91.08 650.14,91.08 650.29,91.09 650.43,91.09 650.58,91.09 650.73,91.10 650.87,91.10 651.02,91.10 651.17,91.11 651.31,91.11 651.46,91.11 651.61,91.12 651.75,91.11 651.90,91.10 652.05,91.04 652.19,90.89 652.34,90.62 652.49,90.24 652.63,89.89 652.78,89.74 652.93,89.90 653.07,90.25 653.22,90.64 653.37,90.92 653.51,91.08 653.66,91.14 653.81,91.16 653.95,91.17 654.10,91.18 654.25,91.18 654.39,91.18 654.54,91.19 654.69,91.19 654.83,91.19 654.98,91.20 655.13,91.20 655.27,91.20 655.42,91.21 655.57,91.21 655.71,91.21 655.86,91.22 656.01,91.22 656.15,91.22 656.30,91.23 656.45,91.23 656.59,91.23 656.74,91.24 656.89,91.24 657.03,91.25 657.18,91.25 657.33,91.25 657.47,91.26 657.62,91.26 657.77,91.26 657.91,91.27 658.06,91.27 658.21,91.27 658.35,91.28 658.50,91.28 658.65,91.28 658.79,91.29 658.94,91.29 659.09,91.28 659.23,91.26 659.38,91.20 659.53,91.05 659.67,90.81 659.82,90.53 659.97,90.34 660.11,90.35 660.26,90.54 660.41,90.83 660.55,91.07 660.70,91.23 660.85,91.30 660.99,91.33 661.14,91.34 661.29,91.35 661.43,91.35 661.58,91.35 661.73,91.36 661.87,91.36 662.02,91.36 662.17,91.37 662.31,91.37 662.46,91.37 662.61,91.38 662.75,91.38 662.90,91.38 663.05,91.39 663.19,91.39 663.34,91.39 663.49,91.40 663.63,91.40 663.78,91.40 663.93,91.41 664.07,91.41 664.22,91.42 664.37,91.42 664.51,91.42 664.66,91.43 664.81,91.43 664.95,91.43 665.10,91.44 665.25,91.44 665.39,91.44 665.54,91.45 665.69,91.45 665.83,91.45 665.98,91.46 666.13,91.46 666.27,91.46 666.42,91.47 666.57,91.47 666.71,91.47 666.86,91.48 667.01,91.48 667.15,91.48 667.30,91.49 667.45,91.49 667.59,91.49 667.74,91.50 667.89,91.49 668.03,91.48 668.18,91.42 668.33,91.31 668.47,91.12 668.62,90.90 668.77,90.74 668.91,90.75 669.06,90.91 669.21,91.13 669.35,91.33 669.50,91.46 669.65,91.52 669.79,91.54 669.94,91.55 670.09,91.55 670.23,91.56 670.38,91.56 670.53,91.56 670.67,91.57 670.82,91.57 670.97,91.57 671.11,91.58 671.26,91.58 671.41,91.59 671.55,91.59 671.70,91.59 671.85,91.60 671.99,91.60 672.14,91.60 672.29,91.61 672.43,91.61 672.58,91.61 672.73,91.62 672.87,91.62 673.02,91.62 673.17,91.63 673.31,91.63 673.46,91.63 673.61,91.64 673.75,91.64 673.90,91.64 674.05,91.65 674.19,91.65 674.34,91.65 674.49,91.66 674.63,91.66 674.78,91.66 674.93,91.67 675.07,91.67 675.22,91.68 675.37,91.68 675.51,91.68 675.66,91.69 675.81,91.69 675.95,91.69 676.10,91.70 676.25,91.70 676.39,91.70 676.54,91.71 676.69,91.71 676.83,91.71 676.98,91.72 677.13,91.72 677.27,91.72 677.42,91.73 677.57,91.73 677.71,91.73 677.86,91.74 678.01,91.74 678.15,91.74 678.30,91.75 678.45,91.75 678.59,91.75 678.74,91.76 678.89,91.76 679.03,91.77 679.18,91.77 679.33,91.77 679.47,91.78 679.62,91.78 679.77,91.78 679.91,91.79 680.06,91.79 680.21,91.79 680.35,91.80 680.50,91.80" fill="none" stroke="#8eb2dd" stroke-width="0.8" stroke-linejoin="round"/>
<polyline points="548.50,50.80 548.65,51.08 548.79,51.36 548.94,51.63 549.09,51.89 549.23,52.15 549.38,52.41 549.53,52.66 549.67,52.91 549.82,53.15 549.97,53.38 550.11,53.61 550.26,53.84 550.41,54.06 550.55,54.28 550.70,54.49 550.85,54.70 550.99,54.91 551.14,55.11 551.29,55.31 551.43,55.50 551.58,55.69 551.73,55.88 551.87,56.06 552.02,56.24 552.17,56.42 552.31,56.59 552.46,56.76 552.61,56.93 552.75,57.09 552.90,57.25 553.05,57.40 553.19,57.56 553.34,57.71 553.49,57.86 553.63,58.00 553.78,58.14 553.93,58.28 554.07,58.42 554.22,58.55 554.37,58.68 554.51,58.81 554.66,58.94 554.81,59.06 554.95,59.18 555.10,59.30 555.25,59.42 555.39,59.53 555.54,59.64 555.69,59.75 555.83,59.86 555.98,59.97 556.13,60.07 556.27,60.17 556.42,60.27 556.57,60.37 556.71,60.46 556.86,60.56 557.01,60.65 557.15,60.74 557.30,60.83 557.45,60.92 557.59,61.00 557.74,61.08 557.89,61.17 558.03,61.25 558.18,61.32 558.33,61.40 558.47,61.48 558.62,61.55 558.77,61.62 558.91,61.70 559.06,61.77 559.21,61.83 559.35,61.90 559.50,61.97 559.65,62.03 559.79,62.10 559.94,62.16 560.09,62.22 560.23,62.28 560.38,62.34 560.53,62.40 560.67,62.45 560.82,62.51 560.97,62.56 561.11,62.61 561.26,62.67 561.41,62.72 561.55,62.77 561.70,62.82 561.85,62.87 561.99,62.91 562.14,62.96 562.29,63.00 562.43,63.05 562.58,63.09 562.73,63.14 562.87,63.18 563.02,63.22 563.17,63.26 563.31,63.30 563.46,63.34 563.61,63.38 563.75,63.41 563.90,63.45 564.05,63.49 564.19,63.52 564.34,63.56 564.49,63.59 564.63,63.62 564.78,63.65 564.93,63.69 565.07,63.71 565.22,63.71 565.37,63.64 565.51,63.44 565.66,63.03 565.81,62.46 565.95,61.93 566.10,61.72 566.25,61.98 566.39,62.56 566.54,63.19 566.69,63.65 566.83,63.91 566.98,64.03 567.13,64.09 567.27,64.12 567.42,64.14 567.57,64.17 567.71,64.19 567.86,64.21 568.01,64.23 568.15,64.25 568.30,64.27 568.45,64.29 568.59,64.31 568.74,64.33 568.89,64.35 569.03,64.37 569.18,64.39 569.33,64.40 569.47,64.42 569.62,64.44 569.77,64.46 569.91,64.47 570.06,64.49 570.21,64.50 570.35,64.52 570.50,64.53 570.65,64.55 570.79,64.57 570.94,64.59 571.09,64.61 571.23,64.62 571.38,64.63 571.53,64.61 571.67,64.54 571.82,64.40 571.97,64.19 572.11,64.01 572.26,63.94 572.41,64.04 572.55,64.26 572.70,64.49 572.85,64.66 572.99,64.76 573.14,64.81 573.29,64.84 573.43,64.85 573.58,64.87 573.73,64.88 573.87,64.90 574.02,64.91 574.17,64.92 574.31,64.93 574.46,64.95 574.61,64.96 574.75,64.97 574.90,64.98 575.05,64.99 575.19,65.01 575.34,65.02 575.49,65.03 575.63,65.04 575.78,65.05 575.93,65.06 576.07,65.06 576.22,65.04 576.37,64.93 576.51,64.67 576.66,64.16 576.81,63.46 576.95,62.81 577.10,62.55 577.25,62.83 577.39,63.50 577.54,64.22 577.69,64.74 577.83,65.03 577.98,65.15 578.13,65.20 578.27,65.22 578.42,65.23 578.57,65.24 578.71,65.25 578.86,65.25 579.01,65.26 579.15,65.27 579.30,65.28 579.45,65.29 579.59,65.30 579.74,65.30 579.89,65.31 580.03,65.32 580.18,65.33 580.33,65.34 580.47,65.34 580.62,65.35 580.77,65.36 580.91,65.37 581.06,65.37 581.21,65.38 581.35,65.39 581.50,65.39 581.65,65.40 581.79,65.41 581.94,65.41 582.09,65.42 582.23,65.43 582.38,65.44 582.53,65.44 582.67,65.45 582.82,65.45 582.97,65.46 583.11,65.47 583.26,65.47 583.41,65.48 583.55,65.49 583.70,65.49 583.85,65.50 583.99,65.49 584.14,65.46 584.29,65.36 584.43,65.08 584.58,64.57 584.73,63.87 584.87,63.21 585.02,62.95 585.17,63.23 585.31,63.89 585.46,64.61 585.61,65.13 585.75,65.41 585.90,65.53 586.05,65.57 586.19,65.59 586.34,65.60 586.49,65.60 586.63,65.61 586.78,65.61 586.93,65.62 587.07,65.62 587.22,65.61 587.37,65.57 587.51,65.47 587.66,65.28 587.81,65.01 587.95,64.76 588.10,64.66 588.25,64.77 588.39,65.03 588.54,65.31 588.69,65.51 588.83,65.62 588.98,65.67 589.13,65.69 589.27,65.70 589.42,65.70 589.57,65.71 589.71,65.71 589.86,65.72 590.01,65.72 590.15,65.72 590.30,65.65 590.45,65.20 590.59,63.16 590.74,57.05 590.89,45.03 591.03,30.87 591.18,24.26 591.33,30.88 591.47,45.05 591.62,57.07 591.77,63.20 591.91,65.24 592.06,65.71 592.21,65.78 592.35,65.79 592.50,65.80 592.65,65.80 592.79,65.81 592.94,65.81 593.09,65.82 593.23,65.82 593.38,65.83 593.53,65.83 593.67,65.83 593.82,65.84 593.97,65.84 594.11,65.85 594.26,65.85 594.41,65.86 594.55,65.86 594.70,65.86 594.85,65.87 594.99,65.87 595.14,65.88 595.29,65.88 595.43,65.88 595.58,65.89 595.73,65.89 595.87,65.90 596.02,65.90 596.17,65.90 596.31,65.91 596.46,65.90 596.61,65.87 596.75,65.79 596.90,65.63 597.05,65.42 597.19,65.22 597.34,65.14 597.49,65.23 597.63,65.43 597.78,65.66 597.93,65.82 598.07,65.91 598.22,65.95 598.37,65.96 598.51,65.97 598.66,65.97 598.81,65.98 598.95,65.98 599.10,65.99 599.25,65.99 599.39,65.99 599.54,66.00 599.69,66.00 599.83,66.00 599.98,66.01 600.13,66.01 600.27,66.02 600.42,66.02 600.57,66.00 600.71,65.95 600.86,65.80 601.01,65.47 601.15,64.94 601.30,64.33 601.45,63.91 601.59,63.91 601.74,64.34 601.89,64.96 602.03,65.50 602.18,65.83 602.33,65.99 602.47,66.05 602.62,66.07 602.77,66.08 602.91,66.09 603.06,66.09 603.21,66.09 603.35,66.10 603.50,66.10 603.65,66.10 603.79,66.11 603.94,66.11 604.09,66.12 604.23,66.12 604.38,66.12 604.53,66.12 604.67,66.11 604.82,66.04 604.97,65.83 605.11,65.30 605.26,64.31 605.41,62.94 605.55,61.68 605.70,61.16 605.85,61.69 605.99,62.96 606.14,64.33 606.29,65.33 606.43,65.86 606.58,66.09 606.73,66.16 606.87,66.18 607.02,66.19 607.17,66.19 607.31,66.20 607.46,66.20 607.61,66.21 607.75,66.21 607.90,66.21 608.05,66.22 608.19,66.22 608.34,66.22 608.49,66.23 608.63,66.23 608.78,66.24 608.93,66.24 609.07,66.24 609.22,66.25 609.37,66.25 609.51,66.25 609.66,66.26 609.81,66.26 609.95,66.26 610.10,66.27 610.25,66.27 610.39,66.28 610.54,66.28 610.69,66.28 610.83,66.29 610.98,66.29 611.13,66.29 611.27,66.30 611.42,66.30 611.57,66.30 611.71,66.31 611.86,66.31 612.01,66.31 612.15,66.30 612.30,66.24 612.45,66.03 612.59,65.52 612.74,64.57 612.89,63.26 613.03,62.05 613.18,61.55 613.33,62.05 613.47,63.27 613.62,64.59 613.77,65.55 613.91,66.06 614.06,66.28 614.21,66.35 614.35,66.37 614.50,66.38 614.65,66.38 614.79,66.39 614.94,66.39 615.09,66.39 615.23,66.40 615.38,66.40 615.53,66.40 615.67,66.41 615.82,66.41 615.97,66.41 616.11,66.42 616.26,66.42 616.41,66.43 616.55,66.43 616.70,66.43 616.85,66.44 616.99,66.44 617.14,66.44 617.29,66.45 617.43,66.45 617.58,66.45 617.73,66.46 617.87,66.46 618.02,66.47 618.17,66.47 618.31,66.47 618.46,66.48 618.61,66.48 618.75,66.48 618.90,66.49 619.05,66.49 619.19,66.49 619.34,66.50 619.49,66.50 619.63,66.50 619.78,66.51 619.93,66.51 620.07,66.51 620.22,66.51 620.37,66.48 620.51,66.35 620.66,65.98 620.81,65.20 620.95,63.94 621.10,62.49 621.25,61.49 621.39,61.49 621.54,62.50 621.69,63.96 621.83,65.23 621.98,66.01 622.13,66.39 622.27,66.52 622.42,66.56 622.57,66.58 622.71,66.58 622.86,66.58 623.01,66.59 623.15,66.59 623.30,66.60 623.45,66.60 623.59,66.60 623.74,66.61 623.89,66.61 624.03,66.61 624.18,66.62 624.33,66.62 624.47,66.62 624.62,66.63 624.77,66.63 624.91,66.64 625.06,66.64 625.21,66.64 625.35,66.65 625.50,66.65 625.65,66.65 625.79,66.66 625.94,66.66 626.09,66.66 626.23,66.67 626.38,66.67 626.53,66.67 626.67,66.68 626.82,66.68 626.97,66.69 627.11,66.69 627.26,66.69 627.41,66.70 627.55,66.70 627.70,66.70 627.85,66.71 627.99,66.71 628.14,66.71 628.29,66.72 628.43,66.72 628.58,66.73 628.73,66.73 628.87,66.73 629.02,66.74 629.17,66.74 629.31,66.74 629.46,66.75 629.61,66.75 629.75,66.75 629.90,66.75 630.05,66.71 630.19,66.56 630.34,66.14 630.49,65.23 630.63,63.78 630.78,62.11 630.93,60.95 631.07,60.95 631.22,62.12 631.37,63.80 631.51,65.26 631.66,66.17 631.81,66.60 631.95,66.75 632.10,66.79 632.25,66.76 632.39,66.62 632.54,66.23 632.69,65.39 632.83,64.03 632.98,62.47 633.13,61.39 633.27,61.39 633.42,62.48 633.57,64.05 633.71,65.42 633.86,66.26 634.01,66.66 634.15,66.81 634.30,66.86 634.45,66.87 634.59,66.87 634.74,66.88 634.89,66.88 635.03,66.88 635.18,66.89 635.33,66.89 635.47,66.89 635.62,66.90 635.77,66.90 635.91,66.91 636.06,66.91 636.21,66.91 636.35,66.92 636.50,66.92 636.65,66.92 636.79,66.93 636.94,66.93 637.09,66.93 637.23,66.94 637.38,66.94 637.53,66.95 637.67,66.95 637.82,66.95 637.97,66.96 638.11,66.96 638.26,66.96 638.41,66.97 638.55,66.97 638.70,66.97 638.85,66.98 638.99,66.98 639.14,66.98 639.29,66.99 639.43,66.99 639.58,67.00 639.73,67.00 639.87,67.00 640.02,67.01 640.17,67.01 640.31,67.01 640.46,67.02 640.61,67.02 640.75,67.02 640.90,67.03 641.05,67.03 641.19,67.04 641.34,67.04 641.49,67.04 641.63,67.05 641.78,67.05 641.93,67.05 642.07,67.06 642.22,67.06 642.37,67.06 642.51,67.07 642.66,67.07 642.81,67.07 642.95,67.08 643.10,67.08 643.25,67.09 643.39,67.09 643.54,67.09 643.69,67.10 643.83,67.10 643.98,67.10 644.13,67.11 644.27,67.11 644.42,67.11 644.57,67.12 644.71,67.12 644.86,67.13 645.01,67.13 645.15,67.13 645.30,67.14 645.45,67.14 645.59,67.14 645.74,67.15 645.89,67.15 646.03,67.15 646.18,67.16 646.33,67.16 646.47,67.16 646.62,67.17 646.77,67.17 646.91,67.18 647.06,67.18 647.21,67.18 647.35,67.19 647.50,67.19 647.65,67.19 647.79,67.20 647.94,67.20 648.09,67.20 648.23,67.21 648.38,67.21 648.53,67.22 648.67,67.22 648.82,67.22 648.97,67.23 649.11,67.23 649.26,67.23 649.41,67.24 649.55,67.24 649.70,67.24 649.85,67.25 649.99,67.25 650.14,67.25 650.29,67.26 650.43,67.26 650.58,67.27 650.73,67.27 650.87,67.27 651.02,67.28 651.17,67.28 651.31,67.28 651.46,67.29 651.61,67.29 651.75,67.29 651.90,67.27 652.05,67.20 652.19,67.03 652.34,66.72 652.49,66.29 652.63,65.88 652.78,65.72 652.93,65.89 653.07,66.30 653.22,66.74 653.37,67.06 653.51,67.24 653.66,67.31 653.81,67.34 653.95,67.35 654.10,67.35 654.25,67.36 654.39,67.36 654.54,67.36 654.69,67.37 654.83,67.37 654.98,67.37 655.13,67.38 655.27,67.38 655.42,67.38 655.57,67.39 655.71,67.39 655.86,67.40 656.01,67.40 656.15,67.40 656.30,67.41 656.45,67.41 656.59,67.41 656.74,67.42 656.89,67.42 657.03,67.42 657.18,67.43 657.33,67.43 657.47,67.43 657.62,67.44 657.77,67.44 657.91,67.45 658.06,67.45 658.21,67.45 658.35,67.46 658.50,67.46 658.65,67.46 658.79,67.47 658.94,67.47 659.09,67.47 659.23,67.44 659.38,67.38 659.53,67.23 659.67,66.99 659.82,66.71 659.97,66.52 660.11,66.53 660.26,66.72 660.41,67.01 660.55,67.25 660.70,67.41 660.85,67.48 660.99,67.51 661.14,67.52 661.29,67.53 661.43,67.53 661.58,67.54 661.73,67.54 661.87,67.54 662.02,67.55 662.17,67.55 662.31,67.55 662.46,67.56 662.61,67.56 662.75,67.56 662.90,67.57 663.05,67.57 663.19,67.58 663.34,67.58 663.49,67.58 663.63,67.59 663.78,67.59 663.93,67.59 664.07,67.60 664.22,67.60 664.37,67.60 664.51,67.61 664.66,67.61 664.81,67.61 664.95,67.62 665.10,67.62 665.25,67.63 665.39,67.63 665.54,67.63 665.69,67.64 665.83,67.64 665.98,67.64 666.13,67.65 666.27,67.65 666.42,67.65 666.57,67.66 666.71,67.66 666.86,67.67 667.01,67.67 667.15,67.67 667.30,67.68 667.45,67.68 667.59,67.68 667.74,67.69 667.89,67.68 668.03,67.67 668.18,67.61 668.33,67.50 668.47,67.31 668.62,67.09 668.77,66.93 668.91,66.94 669.06,67.10 669.21,67.32 669.35,67.52 669.50,67.65 669.65,67.71 669.79,67.73 669.94,67.74 670.09,67.74 670.23,67.75 670.38,67.75 670.53,67.76 670.67,67.76 670.82,67.76 670.97,67.77 671.11,67.77 671.26,67.77 671.41,67.78 671.55,67.78 671.70,67.78 671.85,67.79 671.99,67.79 672.14,67.79 672.29,67.80 672.43,67.80 672.58,67.81 672.73,67.81 672.87,67.81 673.02,67.82 673.17,67.82 673.31,67.82 673.46,67.83 673.61,67.83 673.75,67.83 673.90,67.84 674.05,67.84 674.19,67.85 674.34,67.85 674.49,67.85 674.63,67.86 674.78,67.86 674.93,67.86 675.07,67.87 675.22,67.87 675.37,67.87 675.51,67.88 675.66,67.88 675.81,67.88 675.95,67.89 676.10,67.89 676.25,67.90 676.39,67.90 676.54,67.90 676.69,67.91 676.83,67.91 676.98,67.91 677.13,67.92 677.27,67.92 677.42,67.92 677.57,67.93 677.71,67.93 677.86,67.94 678.01,67.94 678.15,67.94 678.30,67.95 678.45,67.95 678.59,67.95 678.74,67.96 678.89,67.96 679.03,67.96 679.18,67.97 679.33,67.97 679.47,67.97 679.62,67.98 679.77,67.98 679.91,67.99 680.06,67.99 680.21,67.99 680.35,68.00 680.50,68.00" fill="none" stroke="#de9198" stroke-width="0.8" stroke-linejoin="round"/>
<text x="679.3" y="65.1" text-anchor="end" style="font-family:'Liberation Serif',serif;font-weight:bold;font-size:5.1px">NMK20-56d</text>
<text x="679.3" y="89.1" text-anchor="end" style="font-family:'Liberation Serif',serif;font-weight:bold;font-size:5.1px">NMK10-56d</text>
<text x="679.3" y="110.6" text-anchor="end" style="font-family:'Liberation Serif',serif;font-weight:bold;font-size:5.1px">NMK0-56d</text>
<rect x="548.5" y="11.5" width="132.0" height="106.0" fill="none" stroke="#666" stroke-width="1"/>
<text x="548.5" y="125.1" text-anchor="middle" style="font-family:'Liberation Serif',serif;font-weight:bold;font-size:6px">10</text>
<path d="M570.5,117.5v-1.6" stroke="#333" stroke-width="0.6"/>
<text x="570.5" y="125.1" text-anchor="middle" style="font-family:'Liberation Serif',serif;font-weight:bold;font-size:6px">20</text>
<path d="M592.5,117.5v-1.6" stroke="#333" stroke-width="0.6"/>
<text x="592.5" y="125.1" text-anchor="middle" style="font-family:'Liberation Serif',serif;font-weight:bold;font-size:6px">30</text>
<path d="M614.5,117.5v-1.6" stroke="#333" stroke-width="0.6"/>
<text x="614.5" y="125.1" text-anchor="middle" style="font-family:'Liberation Serif',serif;font-weight:bold;font-size:6px">40</text>
<path d="M636.5,117.5v-1.6" stroke="#333" stroke-width="0.6"/>
<text x="636.5" y="125.1" text-anchor="middle" style="font-family:'Liberation Serif',serif;font-weight:bold;font-size:6px">50</text>
<path d="M658.5,117.5v-1.6" stroke="#333" stroke-width="0.6"/>
<text x="658.5" y="125.1" text-anchor="middle" style="font-family:'Liberation Serif',serif;font-weight:bold;font-size:6px">60</text>
<text x="680.5" y="125.1" text-anchor="middle" style="font-family:'Liberation Serif',serif;font-weight:bold;font-size:6px">70</text>
<path d="M559.5,117.5v-1" stroke="#333" stroke-width="0.5"/>
<path d="M581.5,117.5v-1" stroke="#333" stroke-width="0.5"/>
<path d="M603.5,117.5v-1" stroke="#333" stroke-width="0.5"/>
<path d="M625.5,117.5v-1" stroke="#333" stroke-width="0.5"/>
<path d="M647.5,117.5v-1" stroke="#333" stroke-width="0.5"/>
<path d="M669.5,117.5v-1" stroke="#333" stroke-width="0.5"/>
<text x="613.7" y="134.8" text-anchor="middle" style="font-family:'Liberation Serif',serif;font-weight:bold;font-size:8.3px">2θ (°)</text>
<text transform="translate(543.6,64) rotate(-90)" text-anchor="middle" style="font-family:'Liberation Serif',serif;font-weight:bold;font-size:8.2px">Intensity (a.u.)</text>
<text x="653.1" y="17.6" style="font-family:'Liberation Serif',serif;font-size:5.2px;fill:#000">1 Quartz</text>
<text x="653.1" y="23.7" style="font-family:'Liberation Serif',serif;font-size:5.2px;fill:#000">2 Calcite</text>
<text x="653.1" y="29.8" style="font-family:'Liberation Serif',serif;font-size:5.2px;fill:#000">3 Portlandite</text>
<text x="653.1" y="35.9" style="font-family:'Liberation Serif',serif;font-size:5.2px;fill:#000">4 Larnite</text>
<text x="653.1" y="42.0" style="font-family:'Liberation Serif',serif;font-size:5.2px;fill:#000">5 Albite</text>
<rect x="563.0" y="55.6" width="5.7" height="60.7" fill="none" stroke="#7fe0cb" stroke-width="0.85"/>
<rect x="599.5" y="59.3" width="4.2" height="57.0" fill="none" stroke="#7fe0cb" stroke-width="0.85"/>
<text x="566.1" y="62.0" text-anchor="middle" style="font-family:'Liberation Serif',serif;font-size:4.2px;fill:#444">3</text>
<text x="574.0" y="60.6" text-anchor="middle" style="font-family:'Liberation Serif',serif;font-size:4.2px;fill:#444">3</text>
<text x="577.5" y="59.0" text-anchor="middle" style="font-family:'Liberation Serif',serif;font-size:4.2px;fill:#444">15</text>
<text x="584.6" y="59.6" text-anchor="middle" style="font-family:'Liberation Serif',serif;font-size:4.2px;fill:#444">1</text>
<text x="588.1" y="61.2" text-anchor="middle" style="font-family:'Liberation Serif',serif;font-size:4.2px;fill:#444">5</text>
<text x="591.2" y="22.3" text-anchor="middle" style="font-family:'Liberation Serif',serif;font-size:4.2px;fill:#444">2</text>
<text x="597.6" y="60.3" text-anchor="middle" style="font-family:'Liberation Serif',serif;font-size:4.2px;fill:#444">4</text>
<text x="601.7" y="62.0" text-anchor="middle" style="font-family:'Liberation Serif',serif;font-size:4.2px;fill:#444">3</text>
<text x="605.7" y="58.6" text-anchor="middle" style="font-family:'Liberation Serif',serif;font-size:4.2px;fill:#444">2</text>
<text x="613.2" y="58.4" text-anchor="middle" style="font-family:'Liberation Serif',serif;font-size:4.2px;fill:#444">2</text>
<text x="621.3" y="58.6" text-anchor="middle" style="font-family:'Liberation Serif',serif;font-size:4.2px;fill:#444">2</text>
<text x="631.0" y="57.8" text-anchor="middle" style="font-family:'Liberation Serif',serif;font-size:4.2px;fill:#444">2</text>
<text x="633.4" y="58.4" text-anchor="middle" style="font-family:'Liberation Serif',serif;font-size:4.2px;fill:#444">3</text>
<clipPath id="ce"><rect x="29.0" y="139.2" width="149.3" height="111.4"/></clipPath>
<filter id="fe" x="14.0" y="124.19999999999999" width="179.3" height="141.4" filterUnits="userSpaceOnUse" color-interpolation-filters="sRGB"><feGaussianBlur in="SourceGraphic" stdDeviation="3.5" result="L0"/><feTurbulence type="fractalNoise" baseFrequency="0.22" numOctaves="2" seed="11" result="t0"/><feColorMatrix in="t0" type="matrix" values="1 0 0 0 0 1 0 0 0 0 1 0 0 0 0 0 0 0 0 1" result="g0"/><feComposite in="L0" in2="g0" operator="arithmetic" k1="1.3" k2="0.35" k3="0" k4="0" result="L1"/><feTurbulence type="fractalNoise" baseFrequency="0.7" numOctaves="2" seed="22" result="t1"/><feColorMatrix in="t1" type="matrix" values="1 0 0 0 0 1 0 0 0 0 1 0 0 0 0 0 0 0 0 1" result="g1"/><feComposite in="L1" in2="g1" operator="arithmetic" k1="1.3" k2="0.35" k3="0" k4="0" result="L2"/></filter>
<g clip-path="url(#ce)"><g filter="url(#fe)">
<rect x="9.0" y="119.2" width="32.7" height="34.2" fill="rgb(161,161,161)"/>
<rect x="41.4" y="119.2" width="12.7" height="34.2" fill="rgb(161,161,161)"/>
<rect x="53.9" y="119.2" width="12.7" height="34.2" fill="rgb(161,161,161)"/>
<rect x="66.3" y="119.2" width="12.7" height="34.2" fill="rgb(161,161,161)"/>
<rect x="78.8" y="119.2" width="12.7" height="34.2" fill="rgb(86,86,86)"/>
<rect x="91.2" y="119.2" width="12.7" height="34.2" fill="rgb(131,131,131)"/>
<rect x="103.7" y="119.2" width="12.7" height="34.2" fill="rgb(206,206,206)"/>
<rect x="116.1" y="119.2" width="12.7" height="34.2" fill="rgb(216,216,216)"/>
<rect x="128.5" y="119.2" width="12.7" height="34.2" fill="rgb(196,196,196)"/>
<rect x="141.0" y="119.2" width="12.7" height="34.2" fill="rgb(191,191,191)"/>
<rect x="153.4" y="119.2" width="12.7" height="34.2" fill="rgb(211,211,211)"/>
<rect x="165.9" y="119.2" width="32.7" height="34.2" fill="rgb(211,211,211)"/>
<rect x="9.0" y="153.1" width="32.7" height="14.2" fill="rgb(161,161,161)"/>
<rect x="41.4" y="153.1" width="12.7" height="14.2" fill="rgb(166,166,166)"/>
<rect x="53.9" y="153.1" width="12.7" height="14.2" fill="rgb(166,166,166)"/>
<rect x="66.3" y="153.1" width="12.7" height="14.2" fill="rgb(161,161,161)"/>
<rect x="78.8" y="153.1" width="12.7" height="14.2" fill="rgb(96,96,96)"/>
<rect x="91.2" y="153.1" width="12.7" height="14.2" fill="rgb(141,141,141)"/>
<rect x="103.7" y="153.1" width="12.7" height="14.2" fill="rgb(116,116,116)"/>
<rect x="116.1" y="153.1" width="12.7" height="14.2" fill="rgb(186,186,186)"/>
<rect x="128.5" y="153.1" width="12.7" height="14.2" fill="rgb(216,216,216)"/>
<rect x="141.0" y="153.1" width="12.7" height="14.2" fill="rgb(201,201,201)"/>
<rect x="153.4" y="153.1" width="12.7" height="14.2" fill="rgb(186,186,186)"/>
<rect x="165.9" y="153.1" width="32.7" height="14.2" fill="rgb(196,196,196)"/>
<rect x="9.0" y="167.0" width="32.7" height="14.2" fill="rgb(166,166,166)"/>
<rect x="41.4" y="167.0" width="12.7" height="14.2" fill="rgb(161,161,161)"/>
<rect x="53.9" y="167.0" width="12.7" height="14.2" fill="rgb(156,156,156)"/>
<rect x="66.3" y="167.0" width="12.7" height="14.2" fill="rgb(151,151,151)"/>
<rect x="78.8" y="167.0" width="12.7" height="14.2" fill="rgb(136,136,136)"/>
<rect x="91.2" y="167.0" width="12.7" height="14.2" fill="rgb(151,151,151)"/>
<rect x="103.7" y="167.0" width="12.7" height="14.2" fill="rgb(181,181,181)"/>
<rect x="116.1" y="167.0" width="12.7" height="14.2" fill="rgb(206,206,206)"/>
<rect x="128.5" y="167.0" width="12.7" height="14.2" fill="rgb(201,201,201)"/>
<rect x="141.0" y="167.0" width="12.7" height="14.2" fill="rgb(151,151,151)"/>
<rect x="153.4" y="167.0" width="12.7" height="14.2" fill="rgb(116,116,116)"/>
<rect x="165.9" y="167.0" width="32.7" height="14.2" fill="rgb(86,86,86)"/>
<rect x="9.0" y="181.0" width="32.7" height="14.2" fill="rgb(166,166,166)"/>
<rect x="41.4" y="181.0" width="12.7" height="14.2" fill="rgb(156,156,156)"/>
<rect x="53.9" y="181.0" width="12.7" height="14.2" fill="rgb(146,146,146)"/>
<rect x="66.3" y="181.0" width="12.7" height="14.2" fill="rgb(146,146,146)"/>
<rect x="78.8" y="181.0" width="12.7" height="14.2" fill="rgb(141,141,141)"/>
<rect x="91.2" y="181.0" width="12.7" height="14.2" fill="rgb(131,131,131)"/>
<rect x="103.7" y="181.0" width="12.7" height="14.2" fill="rgb(101,101,101)"/>
<rect x="116.1" y="181.0" width="12.7" height="14.2" fill="rgb(151,151,151)"/>
<rect x="128.5" y="181.0" width="12.7" height="14.2" fill="rgb(116,116,116)"/>
<rect x="141.0" y="181.0" width="12.7" height="14.2" fill="rgb(96,96,96)"/>
<rect x="153.4" y="181.0" width="12.7" height="14.2" fill="rgb(86,86,86)"/>
<rect x="165.9" y="181.0" width="32.7" height="14.2" fill="rgb(76,76,76)"/>
<rect x="9.0" y="194.9" width="32.7" height="14.2" fill="rgb(151,151,151)"/>
<rect x="41.4" y="194.9" width="12.7" height="14.2" fill="rgb(146,146,146)"/>
<rect x="53.9" y="194.9" width="12.7" height="14.2" fill="rgb(151,151,151)"/>
<rect x="66.3" y="194.9" width="12.7" height="14.2" fill="rgb(151,151,151)"/>
<rect x="78.8" y="194.9" width="12.7" height="14.2" fill="rgb(126,126,126)"/>
<rect x="91.2" y="194.9" width="12.7" height="14.2" fill="rgb(111,111,111)"/>
<rect x="103.7" y="194.9" width="12.7" height="14.2" fill="rgb(106,106,106)"/>
<rect x="116.1" y="194.9" width="12.7" height="14.2" fill="rgb(166,166,166)"/>
<rect x="128.5" y="194.9" width="12.7" height="14.2" fill="rgb(116,116,116)"/>
<rect x="141.0" y="194.9" width="12.7" height="14.2" fill="rgb(89,89,89)"/>
<rect x="153.4" y="194.9" width="12.7" height="14.2" fill="rgb(86,86,86)"/>
<rect x="165.9" y="194.9" width="32.7" height="14.2" fill="rgb(86,86,86)"/>
<rect x="9.0" y="208.8" width="32.7" height="14.2" fill="rgb(96,96,96)"/>
<rect x="41.4" y="208.8" width="12.7" height="14.2" fill="rgb(131,131,131)"/>
<rect x="53.9" y="208.8" width="12.7" height="14.2" fill="rgb(141,141,141)"/>
<rect x="66.3" y="208.8" width="12.7" height="14.2" fill="rgb(106,106,106)"/>
<rect x="78.8" y="208.8" width="12.7" height="14.2" fill="rgb(91,91,91)"/>
<rect x="91.2" y="208.8" width="12.7" height="14.2" fill="rgb(86,86,86)"/>
<rect x="103.7" y="208.8" width="12.7" height="14.2" fill="rgb(86,86,86)"/>
<rect x="116.1" y="208.8" width="12.7" height="14.2" fill="rgb(116,116,116)"/>
<rect x="128.5" y="208.8" width="12.7" height="14.2" fill="rgb(76,76,76)"/>
<rect x="141.0" y="208.8" width="12.7" height="14.2" fill="rgb(86,86,86)"/>
<rect x="153.4" y="208.8" width="12.7" height="14.2" fill="rgb(86,86,86)"/>
<rect x="165.9" y="208.8" width="32.7" height="14.2" fill="rgb(86,86,86)"/>
<rect x="9.0" y="222.8" width="32.7" height="14.2" fill="rgb(96,96,96)"/>
<rect x="41.4" y="222.8" width="12.7" height="14.2" fill="rgb(101,101,101)"/>
<rect x="53.9" y="222.8" width="12.7" height="14.2" fill="rgb(101,101,101)"/>
<rect x="66.3" y="222.8" width="12.7" height="14.2" fill="rgb(91,91,91)"/>
<rect x="78.8" y="222.8" width="12.7" height="14.2" fill="rgb(81,81,81)"/>
<rect x="91.2" y="222.8" width="12.7" height="14.2" fill="rgb(79,79,79)"/>
<rect x="103.7" y="222.8" width="12.7" height="14.2" fill="rgb(79,79,79)"/>
<rect x="116.1" y="222.8" width="12.7" height="14.2" fill="rgb(81,81,81)"/>
<rect x="128.5" y="222.8" width="12.7" height="14.2" fill="rgb(66,66,66)"/>
<rect x="141.0" y="222.8" width="12.7" height="14.2" fill="rgb(86,86,86)"/>
<rect x="153.4" y="222.8" width="12.7" height="14.2" fill="rgb(86,86,86)"/>
<rect x="165.9" y="222.8" width="32.7" height="14.2" fill="rgb(86,86,86)"/>
<rect x="9.0" y="236.7" width="32.7" height="34.2" fill="rgb(96,96,96)"/>
<rect x="41.4" y="236.7" width="12.7" height="34.2" fill="rgb(96,96,96)"/>
<rect x="53.9" y="236.7" width="12.7" height="34.2" fill="rgb(96,96,96)"/>
<rect x="66.3" y="236.7" width="12.7" height="34.2" fill="rgb(89,89,89)"/>
<rect x="78.8" y="236.7" width="12.7" height="34.2" fill="rgb(81,81,81)"/>
<rect x="91.2" y="236.7" width="12.7" height="34.2" fill="rgb(81,81,81)"/>
<rect x="103.7" y="236.7" width="12.7" height="34.2" fill="rgb(86,86,86)"/>
<rect x="116.1" y="236.7" width="12.7" height="34.2" fill="rgb(86,86,86)"/>
<rect x="128.5" y="236.7" width="12.7" height="34.2" fill="rgb(86,86,86)"/>
<rect x="141.0" y="236.7" width="12.7" height="34.2" fill="rgb(86,86,86)"/>
<rect x="153.4" y="236.7" width="12.7" height="34.2" fill="rgb(86,86,86)"/>
<rect x="165.9" y="236.7" width="32.7" height="34.2" fill="rgb(86,86,86)"/>
</g>
<filter id="ove0" x="-50%" y="-50%" width="200%" height="200%"><feGaussianBlur stdDeviation="2"/></filter>
<ellipse cx="89" cy="148" rx="5" ry="7" fill="#111" opacity="0.45" filter="url(#ove0)"/>
<filter id="ove1" x="-50%" y="-50%" width="200%" height="200%"><feGaussianBlur stdDeviation="1.5"/></filter>
<ellipse cx="132" cy="221" rx="5" ry="4" fill="#111" opacity="0.55" filter="url(#ove1)"/>
<filter id="ove2" x="-50%" y="-50%" width="200%" height="200%"><feGaussianBlur stdDeviation="3"/></filter>
<ellipse cx="172" cy="180" rx="6" ry="14" fill="#222" opacity="0.3" filter="url(#ove2)"/>
</g>
<text x="1.3" y="144.9" style="font-family:'Liberation Serif',serif;font-weight:bold;font-size:13px">(e)</text>
<clipPath id="cez"><rect x="190.2" y="139.2" width="149.4" height="111.4"/></clipPath>
<filter id="fez" x="175.2" y="124.19999999999999" width="179.4" height="141.4" filterUnits="userSpaceOnUse" color-interpolation-filters="sRGB"><feGaussianBlur in="SourceGraphic" stdDeviation="5" result="L0"/><feTurbulence type="fractalNoise" baseFrequency="0.08" numOctaves="3" seed="7" result="t0"/><feColorMatrix in="t0" type="matrix" values="1 0 0 0 0 1 0 0 0 0 1 0 0 0 0 0 0 0 0 1" result="g0"/><feComposite in="L0" in2="g0" operator="arithmetic" k1="0" k2="1" k3="0.9" k4="-0.45" result="L1"/><feTurbulence type="turbulence" baseFrequency="0.045" numOctaves="3" seed="18" result="t1"/><feDiffuseLighting in="t1" surfaceScale="7" diffuseConstant="1" lighting-color="#fff" result="d1"><feDistantLight azimuth="235" elevation="40"/></feDiffuseLighting><feComposite in="L1" in2="d1" operator="arithmetic" k1="0" k2="1" k3="0.35" k4="-0.210" result="L2"/><feTurbulence type="fractalNoise" baseFrequency="0.45" numOctaves="2" seed="29" result="t2"/><feColorMatrix in="t2" type="matrix" values="1 0 0 0 0 1 0 0 0 0 1 0 0 0 0 0 0 0 0 1" result="g2"/><feComposite in="L2" in2="g2" operator="arithmetic" k1="0" k2="1" k3="0.4" k4="-0.2" result="L3"/></filter>
<g clip-path="url(#cez)"><g filter="url(#fez)">
<rect x="170.2" y="119.2" width="39.0" height="38.9" fill="rgb(168,168,168)"/>
<rect x="208.9" y="119.2" width="19.0" height="38.9" fill="rgb(148,148,148)"/>
<rect x="227.6" y="119.2" width="19.0" height="38.9" fill="rgb(143,143,143)"/>
<rect x="246.2" y="119.2" width="19.0" height="38.9" fill="rgb(153,153,153)"/>
<rect x="264.9" y="119.2" width="19.0" height="38.9" fill="rgb(148,148,148)"/>
<rect x="283.6" y="119.2" width="19.0" height="38.9" fill="rgb(153,153,153)"/>
<rect x="302.2" y="119.2" width="19.0" height="38.9" fill="rgb(158,158,158)"/>
<rect x="320.9" y="119.2" width="39.0" height="38.9" fill="rgb(178,178,178)"/>
<rect x="170.2" y="157.8" width="39.0" height="18.9" fill="rgb(163,163,163)"/>
<rect x="208.9" y="157.8" width="19.0" height="18.9" fill="rgb(153,153,153)"/>
<rect x="227.6" y="157.8" width="19.0" height="18.9" fill="rgb(148,148,148)"/>
<rect x="246.2" y="157.8" width="19.0" height="18.9" fill="rgb(143,143,143)"/>
<rect x="264.9" y="157.8" width="19.0" height="18.9" fill="rgb(148,148,148)"/>
<rect x="283.6" y="157.8" width="19.0" height="18.9" fill="rgb(153,153,153)"/>
<rect x="302.2" y="157.8" width="19.0" height="18.9" fill="rgb(158,158,158)"/>
<rect x="320.9" y="157.8" width="39.0" height="18.9" fill="rgb(173,173,173)"/>
<rect x="170.2" y="176.3" width="39.0" height="18.9" fill="rgb(158,158,158)"/>
<rect x="208.9" y="176.3" width="19.0" height="18.9" fill="rgb(153,153,153)"/>
<rect x="227.6" y="176.3" width="19.0" height="18.9" fill="rgb(158,158,158)"/>
<rect x="246.2" y="176.3" width="19.0" height="18.9" fill="rgb(148,148,148)"/>
<rect x="264.9" y="176.3" width="19.0" height="18.9" fill="rgb(148,148,148)"/>
<rect x="283.6" y="176.3" width="19.0" height="18.9" fill="rgb(158,158,158)"/>
<rect x="302.2" y="176.3" width="19.0" height="18.9" fill="rgb(158,158,158)"/>
<rect x="320.9" y="176.3" width="39.0" height="18.9" fill="rgb(163,163,163)"/>
<rect x="170.2" y="194.9" width="39.0" height="18.9" fill="rgb(158,158,158)"/>
<rect x="208.9" y="194.9" width="19.0" height="18.9" fill="rgb(153,153,153)"/>
<rect x="227.6" y="194.9" width="19.0" height="18.9" fill="rgb(163,163,163)"/>
<rect x="246.2" y="194.9" width="19.0" height="18.9" fill="rgb(143,143,143)"/>
<rect x="264.9" y="194.9" width="19.0" height="18.9" fill="rgb(153,153,153)"/>
<rect x="283.6" y="194.9" width="19.0" height="18.9" fill="rgb(158,158,158)"/>
<rect x="302.2" y="194.9" width="19.0" height="18.9" fill="rgb(168,168,168)"/>
<rect x="320.9" y="194.9" width="39.0" height="18.9" fill="rgb(168,168,168)"/>
<rect x="170.2" y="213.5" width="39.0" height="18.9" fill="rgb(163,163,163)"/>
<rect x="208.9" y="213.5" width="19.0" height="18.9" fill="rgb(173,173,173)"/>
<rect x="227.6" y="213.5" width="19.0" height="18.9" fill="rgb(153,153,153)"/>
<rect x="246.2" y="213.5" width="19.0" height="18.9" fill="rgb(128,128,128)"/>
<rect x="264.9" y="213.5" width="19.0" height="18.9" fill="rgb(158,158,158)"/>
<rect x="283.6" y="213.5" width="19.0" height="18.9" fill="rgb(163,163,163)"/>
<rect x="302.2" y="213.5" width="19.0" height="18.9" fill="rgb(158,158,158)"/>
<rect x="320.9" y="213.5" width="39.0" height="18.9" fill="rgb(158,158,158)"/>
<rect x="170.2" y="232.0" width="39.0" height="38.9" fill="rgb(153,153,153)"/>
<rect x="208.9" y="232.0" width="19.0" height="38.9" fill="rgb(168,168,168)"/>
<rect x="227.6" y="232.0" width="19.0" height="38.9" fill="rgb(158,158,158)"/>
<rect x="246.2" y="232.0" width="19.0" height="38.9" fill="rgb(148,148,148)"/>
<rect x="264.9" y="232.0" width="19.0" height="38.9" fill="rgb(163,163,163)"/>
<rect x="283.6" y="232.0" width="19.0" height="38.9" fill="rgb(168,168,168)"/>
<rect x="302.2" y="232.0" width="19.0" height="38.9" fill="rgb(163,163,163)"/>
<rect x="320.9" y="232.0" width="39.0" height="38.9" fill="rgb(158,158,158)"/>
</g>
</g>
<clipPath id="cf"><rect x="371.4" y="139.2" width="150.4" height="111.4"/></clipPath>
<filter id="ff" x="356.4" y="124.19999999999999" width="180.4" height="141.4" filterUnits="userSpaceOnUse" color-interpolation-filters="sRGB"><feGaussianBlur in="SourceGraphic" stdDeviation="5" result="L0"/><feTurbulence type="fractalNoise" baseFrequency="0.35" numOctaves="3" seed="4" result="t0"/><feColorMatrix in="t0" type="matrix" values="1 0 0 0 0 1 0 0 0 0 1 0 0 0 0 0 0 0 0 1" result="g0"/><feComposite in="L0" in2="g0" operator="arithmetic" k1="0" k2="1" k3="0.9" k4="-0.45" result="L1"/><feTurbulence type="turbulence" baseFrequency="0.03" numOctaves="2" seed="15" result="t1"/><feColorMatrix in="t1" type="matrix" values="0 0 0 0 0 0 0 0 0 0 0 0 0 0 0 -1 0 0 0 1" result="ti1"/><feComponentTransfer in="ti1" result="ta1"><feFuncA type="table" tableValues="0 0 0 0 0 0 0 0 0 0 0 0 0.12 0.25 0.38 0.50"/></feComponentTransfer><feGaussianBlur in="ta1" stdDeviation="1.5" result="tb1"/><feComposite in="tb1" in2="L1" operator="over" result="L2"/><feTurbulence type="turbulence" baseFrequency="0.2" numOctaves="3" seed="26" result="t2"/><feColorMatrix in="t2" type="matrix" values="0 0 0 0 1 0 0 0 0 1 0 0 0 0 1 -1 0 0 0 1" result="ti2"/><feComponentTransfer in="ti2" result="ta2"><feFuncA type="table" tableValues="0 0 0 0 0 0 0 0 0 0 0 0 0 0 0.17 0.35"/></feComponentTransfer><feGaussianBlur in="ta2" stdDeviation="0.2" result="tb2"/><feComposite in="tb2" in2="L2" operator="over" result="L3"/><feTurbulence type="turbulence" baseFrequency="0.09" numOctaves="3" seed="37" result="t3"/><feColorMatrix in="t3" type="matrix" values="0 0 0 0 1 0 0 0 0 1 0 0 0 0 1 -1 0 0 0 1" result="ti3"/><feComponentTransfer in="ti3" result="ta3"><feFuncA type="table" tableValues="0 0 0 0 0 0 0 0 0 0 0 0 0.24 0.47 0.71 0.95"/></feComponentTransfer><feGaussianBlur in="ta3" stdDeviation="0.45" result="tb3"/><feComposite in="tb3" in2="L3" operator="over" result="L4"/></filter>
<g clip-path="url(#cf)"><g filter="url(#ff)">
<rect x="351.4" y="119.2" width="39.1" height="38.9" fill="rgb(98,98,98)"/>
<rect x="390.2" y="119.2" width="19.1" height="38.9" fill="rgb(98,98,98)"/>
<rect x="409.0" y="119.2" width="19.1" height="38.9" fill="rgb(98,98,98)"/>
<rect x="427.8" y="119.2" width="19.1" height="38.9" fill="rgb(88,88,88)"/>
<rect x="446.6" y="119.2" width="19.1" height="38.9" fill="rgb(108,108,108)"/>
<rect x="465.4" y="119.2" width="19.1" height="38.9" fill="rgb(103,103,103)"/>
<rect x="484.2" y="119.2" width="19.1" height="38.9" fill="rgb(93,93,93)"/>
<rect x="503.0" y="119.2" width="39.1" height="38.9" fill="rgb(108,108,108)"/>
<rect x="351.4" y="157.8" width="39.1" height="18.9" fill="rgb(93,93,93)"/>
<rect x="390.2" y="157.8" width="19.1" height="18.9" fill="rgb(93,93,93)"/>
<rect x="409.0" y="157.8" width="19.1" height="18.9" fill="rgb(88,88,88)"/>
<rect x="427.8" y="157.8" width="19.1" height="18.9" fill="rgb(83,83,83)"/>
<rect x="446.6" y="157.8" width="19.1" height="18.9" fill="rgb(103,103,103)"/>
<rect x="465.4" y="157.8" width="19.1" height="18.9" fill="rgb(98,98,98)"/>
<rect x="484.2" y="157.8" width="19.1" height="18.9" fill="rgb(93,93,93)"/>
<rect x="503.0" y="157.8" width="39.1" height="18.9" fill="rgb(108,108,108)"/>
<rect x="351.4" y="176.3" width="39.1" height="18.9" fill="rgb(98,98,98)"/>
<rect x="390.2" y="176.3" width="19.1" height="18.9" fill="rgb(93,93,93)"/>
<rect x="409.0" y="176.3" width="19.1" height="18.9" fill="rgb(88,88,88)"/>
<rect x="427.8" y="176.3" width="19.1" height="18.9" fill="rgb(88,88,88)"/>
<rect x="446.6" y="176.3" width="19.1" height="18.9" fill="rgb(98,98,98)"/>
<rect x="465.4" y="176.3" width="19.1" height="18.9" fill="rgb(98,98,98)"/>
<rect x="484.2" y="176.3" width="19.1" height="18.9" fill="rgb(98,98,98)"/>
<rect x="503.0" y="176.3" width="39.1" height="18.9" fill="rgb(98,98,98)"/>
<rect x="351.4" y="194.9" width="39.1" height="18.9" fill="rgb(98,98,98)"/>
<rect x="390.2" y="194.9" width="19.1" height="18.9" fill="rgb(88,88,88)"/>
<rect x="409.0" y="194.9" width="19.1" height="18.9" fill="rgb(78,78,78)"/>
<rect x="427.8" y="194.9" width="19.1" height="18.9" fill="rgb(83,83,83)"/>
<rect x="446.6" y="194.9" width="19.1" height="18.9" fill="rgb(98,98,98)"/>
<rect x="465.4" y="194.9" width="19.1" height="18.9" fill="rgb(98,98,98)"/>
<rect x="484.2" y="194.9" width="19.1" height="18.9" fill="rgb(93,93,93)"/>
<rect x="503.0" y="194.9" width="39.1" height="18.9" fill="rgb(88,88,88)"/>
<rect x="351.4" y="213.5" width="39.1" height="18.9" fill="rgb(93,93,93)"/>
<rect x="390.2" y="213.5" width="19.1" height="18.9" fill="rgb(88,88,88)"/>
<rect x="409.0" y="213.5" width="19.1" height="18.9" fill="rgb(83,83,83)"/>
<rect x="427.8" y="213.5" width="19.1" height="18.9" fill="rgb(78,78,78)"/>
<rect x="446.6" y="213.5" width="19.1" height="18.9" fill="rgb(93,93,93)"/>
<rect x="465.4" y="213.5" width="19.1" height="18.9" fill="rgb(93,93,93)"/>
<rect x="484.2" y="213.5" width="19.1" height="18.9" fill="rgb(78,78,78)"/>
<rect x="503.0" y="213.5" width="39.1" height="18.9" fill="rgb(83,83,83)"/>
<rect x="351.4" y="232.0" width="39.1" height="38.9" fill="rgb(88,88,88)"/>
<rect x="390.2" y="232.0" width="19.1" height="38.9" fill="rgb(83,83,83)"/>
<rect x="409.0" y="232.0" width="19.1" height="38.9" fill="rgb(78,78,78)"/>
<rect x="427.8" y="232.0" width="19.1" height="38.9" fill="rgb(78,78,78)"/>
<rect x="446.6" y="232.0" width="19.1" height="38.9" fill="rgb(88,88,88)"/>
<rect x="465.4" y="232.0" width="19.1" height="38.9" fill="rgb(88,88,88)"/>
<rect x="484.2" y="232.0" width="19.1" height="38.9" fill="rgb(73,73,73)"/>
<rect x="503.0" y="232.0" width="39.1" height="38.9" fill="rgb(83,83,83)"/>
</g>
<filter id="ovf0" x="-50%" y="-50%" width="200%" height="200%"><feGaussianBlur stdDeviation="2"/></filter>
<ellipse cx="434" cy="161" rx="6" ry="10" fill="#080808" opacity="0.75" filter="url(#ovf0)"/>
<filter id="ovf1" x="-50%" y="-50%" width="200%" height="200%"><feGaussianBlur stdDeviation="2"/></filter>
<ellipse cx="484" cy="145" rx="8" ry="6" fill="#111" opacity="0.6" filter="url(#ovf1)"/>
<filter id="ovf2" x="-50%" y="-50%" width="200%" height="200%"><feGaussianBlur stdDeviation="2.5"/></filter>
<ellipse cx="425" cy="234" rx="13" ry="8" fill="#111" opacity="0.55" filter="url(#ovf2)"/>
<filter id="ovf3" x="-50%" y="-50%" width="200%" height="200%"><feGaussianBlur stdDeviation="2"/></filter>
<ellipse cx="504" cy="234" rx="9" ry="10" fill="#000" opacity="0.85" filter="url(#ovf3)"/>
<filter id="ovf4" x="-50%" y="-50%" width="200%" height="200%"><feGaussianBlur stdDeviation="3"/></filter>
<ellipse cx="378" cy="238" rx="7" ry="12" fill="#222" opacity="0.4" filter="url(#ovf4)"/>
</g>
<text x="351.6" y="144.9" style="font-family:'Liberation Serif',serif;font-weight:bold;font-size:13px">(f)</text>
<clipPath id="cfz"><rect x="533.9" y="139.2" width="148.6" height="111.4"/></clipPath>
<filter id="ffz" x="518.9" y="124.19999999999999" width="178.6" height="141.4" filterUnits="userSpaceOnUse" color-interpolation-filters="sRGB"><feGaussianBlur in="SourceGraphic" stdDeviation="5" result="L0"/><feTurbulence type="fractalNoise" baseFrequency="0.07" numOctaves="4" seed="9" result="t0"/><feColorMatrix in="t0" type="matrix" values="1 0 0 0 0 1 0 0 0 0 1 0 0 0 0 0 0 0 0 1" result="g0"/><feComposite in="L0" in2="g0" operator="arithmetic" k1="0" k2="1" k3="0.6" k4="-0.3" result="L1"/><feTurbulence type="turbulence" baseFrequency="0.035" numOctaves="3" seed="20" result="t1"/><feDiffuseLighting in="t1" surfaceScale="7" diffuseConstant="1" lighting-color="#fff" result="d1"><feDistantLight azimuth="235" elevation="40"/></feDiffuseLighting><feComposite in="L1" in2="d1" operator="arithmetic" k1="0" k2="1" k3="0.35" k4="-0.210" result="L2"/><feTurbulence type="turbulence" baseFrequency="0.035" numOctaves="2" seed="31" result="t2"/><feColorMatrix in="t2" type="matrix" values="0 0 0 0 0 0 0 0 0 0 0 0 0 0 0 -1 0 0 0 1" result="ti2"/><feComponentTransfer in="ti2" result="ta2"><feFuncA type="table" tableValues="0 0 0 0 0 0 0 0 0 0 0 0 0 0.20 0.40 0.60"/></feComponentTransfer><feGaussianBlur in="ta2" stdDeviation="0.7" result="tb2"/><feComposite in="tb2" in2="L2" operator="over" result="L3"/><feTurbulence type="fractalNoise" baseFrequency="0.4" numOctaves="2" seed="42" result="t3"/><feColorMatrix in="t3" type="matrix" values="1 0 0 0 0 1 0 0 0 0 1 0 0 0 0 0 0 0 0 1" result="g3"/><feComposite in="L3" in2="g3" operator="arithmetic" k1="0" k2="1" k3="0.5" k4="-0.25" result="L4"/></filter>
<g clip-path="url(#cfz)"><g filter="url(#ffz)">
<rect x="513.9" y="119.2" width="38.9" height="38.9" fill="rgb(79,79,79)"/>
<rect x="552.5" y="119.2" width="18.9" height="38.9" fill="rgb(124,124,124)"/>
<rect x="571.0" y="119.2" width="18.9" height="38.9" fill="rgb(104,104,104)"/>
<rect x="589.6" y="119.2" width="18.9" height="38.9" fill="rgb(114,114,114)"/>
<rect x="608.2" y="119.2" width="18.9" height="38.9" fill="rgb(124,124,124)"/>
<rect x="626.8" y="119.2" width="18.9" height="38.9" fill="rgb(119,119,119)"/>
<rect x="645.4" y="119.2" width="18.9" height="38.9" fill="rgb(104,104,104)"/>
<rect x="663.9" y="119.2" width="38.9" height="38.9" fill="rgb(74,74,74)"/>
<rect x="513.9" y="157.8" width="38.9" height="18.9" fill="rgb(99,99,99)"/>
<rect x="552.5" y="157.8" width="18.9" height="18.9" fill="rgb(124,124,124)"/>
<rect x="571.0" y="157.8" width="18.9" height="18.9" fill="rgb(139,139,139)"/>
<rect x="589.6" y="157.8" width="18.9" height="18.9" fill="rgb(174,174,174)"/>
<rect x="608.2" y="157.8" width="18.9" height="18.9" fill="rgb(119,119,119)"/>
<rect x="626.8" y="157.8" width="18.9" height="18.9" fill="rgb(114,114,114)"/>
<rect x="645.4" y="157.8" width="18.9" height="18.9" fill="rgb(109,109,109)"/>
<rect x="663.9" y="157.8" width="38.9" height="18.9" fill="rgb(84,84,84)"/>
<rect x="513.9" y="176.3" width="38.9" height="18.9" fill="rgb(99,99,99)"/>
<rect x="552.5" y="176.3" width="18.9" height="18.9" fill="rgb(114,114,114)"/>
<rect x="571.0" y="176.3" width="18.9" height="18.9" fill="rgb(124,124,124)"/>
<rect x="589.6" y="176.3" width="18.9" height="18.9" fill="rgb(139,139,139)"/>
<rect x="608.2" y="176.3" width="18.9" height="18.9" fill="rgb(124,124,124)"/>
<rect x="626.8" y="176.3" width="18.9" height="18.9" fill="rgb(114,114,114)"/>
<rect x="645.4" y="176.3" width="18.9" height="18.9" fill="rgb(114,114,114)"/>
<rect x="663.9" y="176.3" width="38.9" height="18.9" fill="rgb(104,104,104)"/>
<rect x="513.9" y="194.9" width="38.9" height="18.9" fill="rgb(94,94,94)"/>
<rect x="552.5" y="194.9" width="18.9" height="18.9" fill="rgb(119,119,119)"/>
<rect x="571.0" y="194.9" width="18.9" height="18.9" fill="rgb(119,119,119)"/>
<rect x="589.6" y="194.9" width="18.9" height="18.9" fill="rgb(119,119,119)"/>
<rect x="608.2" y="194.9" width="18.9" height="18.9" fill="rgb(129,129,129)"/>
<rect x="626.8" y="194.9" width="18.9" height="18.9" fill="rgb(129,129,129)"/>
<rect x="645.4" y="194.9" width="18.9" height="18.9" fill="rgb(119,119,119)"/>
<rect x="663.9" y="194.9" width="38.9" height="18.9" fill="rgb(114,114,114)"/>
<rect x="513.9" y="213.5" width="38.9" height="18.9" fill="rgb(84,84,84)"/>
<rect x="552.5" y="213.5" width="18.9" height="18.9" fill="rgb(114,114,114)"/>
<rect x="571.0" y="213.5" width="18.9" height="18.9" fill="rgb(114,114,114)"/>
<rect x="589.6" y="213.5" width="18.9" height="18.9" fill="rgb(119,119,119)"/>
<rect x="608.2" y="213.5" width="18.9" height="18.9" fill="rgb(139,139,139)"/>
<rect x="626.8" y="213.5" width="18.9" height="18.9" fill="rgb(144,144,144)"/>
<rect x="645.4" y="213.5" width="18.9" height="18.9" fill="rgb(124,124,124)"/>
<rect x="663.9" y="213.5" width="38.9" height="18.9" fill="rgb(119,119,119)"/>
<rect x="513.9" y="232.0" width="38.9" height="38.9" fill="rgb(84,84,84)"/>
<rect x="552.5" y="232.0" width="18.9" height="38.9" fill="rgb(109,109,109)"/>
<rect x="571.0" y="232.0" width="18.9" height="38.9" fill="rgb(114,114,114)"/>
<rect x="589.6" y="232.0" width="18.9" height="38.9" fill="rgb(119,119,119)"/>
<rect x="608.2" y="232.0" width="18.9" height="38.9" fill="rgb(129,129,129)"/>
<rect x="626.8" y="232.0" width="18.9" height="38.9" fill="rgb(129,129,129)"/>
<rect x="645.4" y="232.0" width="18.9" height="38.9" fill="rgb(124,124,124)"/>
<rect x="663.9" y="232.0" width="38.9" height="38.9" fill="rgb(114,114,114)"/>
</g>
<filter id="ovfz0" x="-50%" y="-50%" width="200%" height="200%"><feGaussianBlur stdDeviation="1.5"/></filter>
<ellipse cx="583" cy="171" rx="6" ry="5" fill="#fff" opacity="0.6" filter="url(#ovfz0)"/>
<filter id="ovfz1" x="-50%" y="-50%" width="200%" height="200%"><feGaussianBlur stdDeviation="3"/></filter>
<ellipse cx="551" cy="172" rx="7" ry="18" fill="#ddd" opacity="0.25" filter="url(#ovfz1)"/>
<filter id="ovfz2" x="-50%" y="-50%" width="200%" height="200%"><feGaussianBlur stdDeviation="2"/></filter>
<ellipse cx="600" cy="246" rx="10" ry="5" fill="#111" opacity="0.35" filter="url(#ovfz2)"/>
</g>
<rect x="29" y="139" width="54.7" height="16.0" fill="#fff"/>
<text x="34.2" y="150.3" style="font-family:'Liberation Serif',serif;font-weight:bold;font-size:9px">NMK0-14d</text>
<rect x="371.3" y="139" width="59.6" height="16.0" fill="#fff"/>
<text x="377.4" y="150.3" style="font-family:'Liberation Serif',serif;font-weight:bold;font-size:8.8px">NMK20-14d</text>
<rect x="102" y="243.7" width="70.9" height="3.9" fill="#fff"/>
<text x="137" y="239.0" text-anchor="middle" style="font-family:'Liberation Serif',serif;font-weight:bold;font-size:9.4px;fill:#fff">300μm</text>
<rect x="263" y="243.7" width="71.0" height="3.9" fill="#fff"/>
<text x="296.2" y="239.0" text-anchor="middle" style="font-family:'Liberation Serif',serif;font-weight:bold;font-size:8.7px;fill:#fff">40μm</text>
<rect x="445.9" y="243.7" width="71.0" height="3.9" fill="#fff"/>
<text x="480.6" y="239.0" text-anchor="middle" style="font-family:'Liberation Serif',serif;font-weight:bold;font-size:9.4px;fill:#fff">300μm</text>
<rect x="606.2" y="243.7" width="71.2" height="3.9" fill="#fff"/>
<text x="640" y="239.0" text-anchor="middle" style="font-family:'Liberation Serif',serif;font-weight:bold;font-size:8.7px;fill:#fff">40μm</text>
<rect x="113.3" y="186.5" width="11.2" height="10.3" fill="none" stroke="#dc2323" stroke-width="1.2"/>
<path d="M124.9,186.4L190.2,139.6M124.9,197L190,250.2" stroke="#dc2323" stroke-width="1.35" stroke-dasharray="4.4 2.4"/>
<rect x="486.5" y="196.1" width="10.1" height="11" fill="none" stroke="#dc2323" stroke-width="1.2"/>
<path d="M496.8,196L533.9,139.6M496.8,207.3L534.1,250.4" stroke="#dc2323" stroke-width="1.35" stroke-dasharray="4.4 2.4"/>
</svg>
</body></html>
